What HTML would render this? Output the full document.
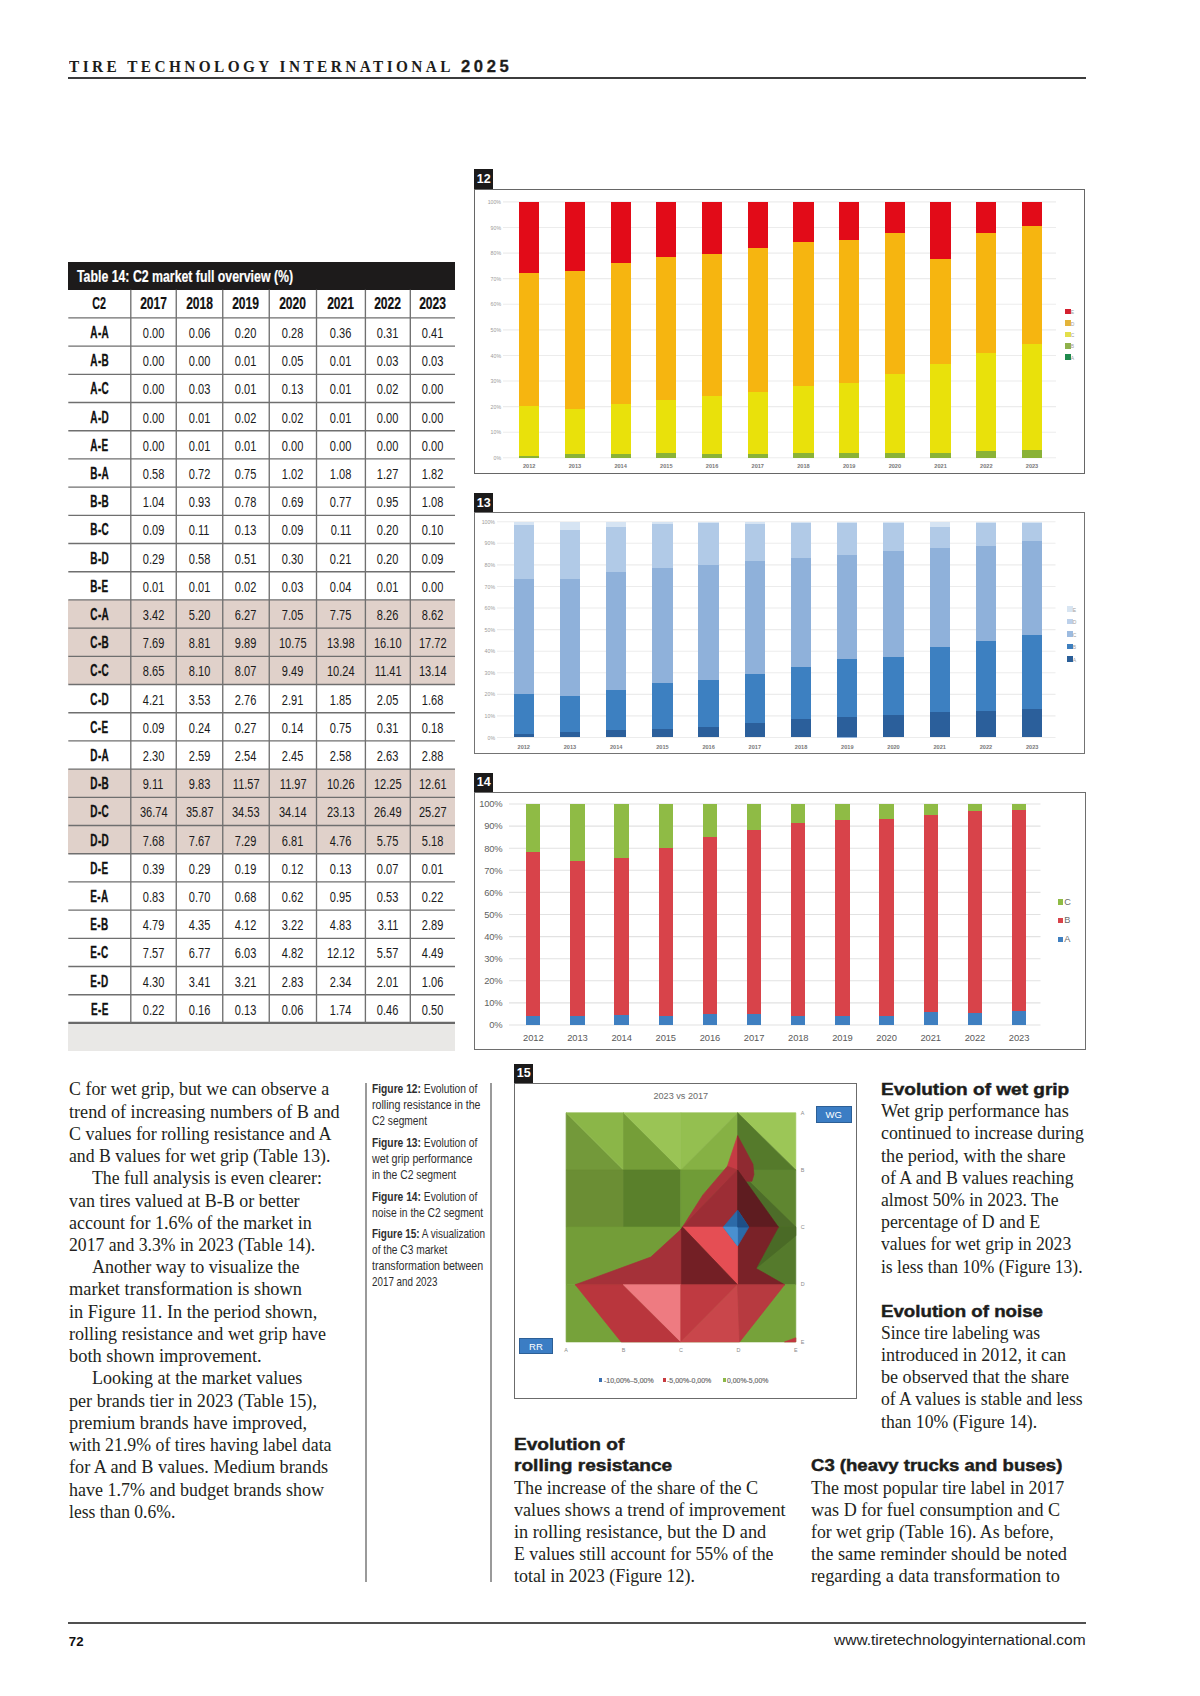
<!DOCTYPE html><html><head><meta charset="utf-8"><style>html,body{margin:0;padding:0;background:#fff;}body{width:1200px;height:1696px;position:relative;overflow:hidden;}</style></head><body>
<div style="position:absolute;left:68.80px;top:55.69px;line-height:20.88px;white-space:nowrap;font-family:'Liberation Serif', serif;font-size:17.4px;font-weight:bold;color:#1d1d1b;letter-spacing:3.9px;"><span style="display:inline-block;transform:scaleX(0.88);transform-origin:left 0;">TIRE TECHNOLOGY INTERNATIONAL</span></div>
<div style="position:absolute;left:461.00px;top:57.09px;line-height:19.92px;white-space:nowrap;font-family:'Liberation Sans', sans-serif;font-size:16.6px;font-weight:bold;color:#1d1d1b;letter-spacing:3.6px;-webkit-text-stroke:0.3px #1d1d1b;"><span style="display:inline-block;">2025</span></div>
<div style="position:absolute;left:68.00px;top:77.40px;width:1017.80px;height:1.80px;background:#3c3c3c;"></div>
<div style="position:absolute;left:68.30px;top:261.70px;width:386.70px;height:28.10px;background:#1d1b1b;"></div>
<div style="position:absolute;left:77.00px;top:267.05px;line-height:19.08px;white-space:nowrap;font-family:'Liberation Sans', sans-serif;font-size:15.9px;font-weight:bold;color:#ffffff;-webkit-text-stroke:0.2px #fff;"><span style="display:inline-block;transform:scaleX(0.775);transform-origin:left 0;">Table 14: C2 market full overview (%)</span></div>
<div style="position:absolute;left:68.30px;top:599.90px;width:386.70px;height:28.20px;background:#e0d1ca;"></div>
<div style="position:absolute;left:68.30px;top:628.10px;width:386.70px;height:28.20px;background:#e0d1ca;"></div>
<div style="position:absolute;left:68.30px;top:656.30px;width:386.70px;height:28.20px;background:#e0d1ca;"></div>
<div style="position:absolute;left:68.30px;top:769.10px;width:386.70px;height:28.20px;background:#e0d1ca;"></div>
<div style="position:absolute;left:68.30px;top:797.30px;width:386.70px;height:28.20px;background:#e0d1ca;"></div>
<div style="position:absolute;left:68.30px;top:825.50px;width:386.70px;height:28.20px;background:#e0d1ca;"></div>
<div style="position:absolute;left:68.30px;top:1024.30px;width:386.70px;height:26.50px;background:#e9e8e6;"></div>
<svg width="1200" height="1100" style="position:absolute;left:0;top:0"><line x1="68.3" y1="317.90" x2="455.0" y2="317.90" stroke="#6f6f6f" stroke-width="1.35"/><line x1="68.3" y1="346.10" x2="455.0" y2="346.10" stroke="#6f6f6f" stroke-width="1.35"/><line x1="68.3" y1="374.30" x2="455.0" y2="374.30" stroke="#6f6f6f" stroke-width="1.35"/><line x1="68.3" y1="402.50" x2="455.0" y2="402.50" stroke="#6f6f6f" stroke-width="1.35"/><line x1="68.3" y1="430.70" x2="455.0" y2="430.70" stroke="#6f6f6f" stroke-width="1.35"/><line x1="68.3" y1="458.90" x2="455.0" y2="458.90" stroke="#6f6f6f" stroke-width="1.35"/><line x1="68.3" y1="487.10" x2="455.0" y2="487.10" stroke="#6f6f6f" stroke-width="1.35"/><line x1="68.3" y1="515.30" x2="455.0" y2="515.30" stroke="#6f6f6f" stroke-width="1.35"/><line x1="68.3" y1="543.50" x2="455.0" y2="543.50" stroke="#6f6f6f" stroke-width="1.35"/><line x1="68.3" y1="571.70" x2="455.0" y2="571.70" stroke="#6f6f6f" stroke-width="1.35"/><line x1="68.3" y1="599.90" x2="455.0" y2="599.90" stroke="#6f6f6f" stroke-width="1.35"/><line x1="68.3" y1="628.10" x2="455.0" y2="628.10" stroke="#6f6f6f" stroke-width="1.35"/><line x1="68.3" y1="656.30" x2="455.0" y2="656.30" stroke="#6f6f6f" stroke-width="1.35"/><line x1="68.3" y1="684.50" x2="455.0" y2="684.50" stroke="#6f6f6f" stroke-width="1.35"/><line x1="68.3" y1="712.70" x2="455.0" y2="712.70" stroke="#6f6f6f" stroke-width="1.35"/><line x1="68.3" y1="740.90" x2="455.0" y2="740.90" stroke="#6f6f6f" stroke-width="1.35"/><line x1="68.3" y1="769.10" x2="455.0" y2="769.10" stroke="#6f6f6f" stroke-width="1.35"/><line x1="68.3" y1="797.30" x2="455.0" y2="797.30" stroke="#6f6f6f" stroke-width="1.35"/><line x1="68.3" y1="825.50" x2="455.0" y2="825.50" stroke="#6f6f6f" stroke-width="1.35"/><line x1="68.3" y1="853.70" x2="455.0" y2="853.70" stroke="#6f6f6f" stroke-width="1.35"/><line x1="68.3" y1="881.90" x2="455.0" y2="881.90" stroke="#6f6f6f" stroke-width="1.35"/><line x1="68.3" y1="910.10" x2="455.0" y2="910.10" stroke="#6f6f6f" stroke-width="1.35"/><line x1="68.3" y1="938.30" x2="455.0" y2="938.30" stroke="#6f6f6f" stroke-width="1.35"/><line x1="68.3" y1="966.50" x2="455.0" y2="966.50" stroke="#6f6f6f" stroke-width="1.35"/><line x1="68.3" y1="994.70" x2="455.0" y2="994.70" stroke="#6f6f6f" stroke-width="1.35"/><line x1="68.3" y1="1022.90" x2="455.0" y2="1022.90" stroke="#6a6a6a" stroke-width="2.2"/><line x1="130.80" y1="289.8" x2="130.80" y2="1022.90" stroke="#707070" stroke-width="1.35"/><line x1="176.25" y1="289.8" x2="176.25" y2="1022.90" stroke="#707070" stroke-width="1.35"/><line x1="222.75" y1="289.8" x2="222.75" y2="1022.90" stroke="#707070" stroke-width="1.35"/><line x1="269.25" y1="289.8" x2="269.25" y2="1022.90" stroke="#707070" stroke-width="1.35"/><line x1="316.50" y1="289.8" x2="316.50" y2="1022.90" stroke="#707070" stroke-width="1.35"/><line x1="365.40" y1="289.8" x2="365.40" y2="1022.90" stroke="#707070" stroke-width="1.35"/><line x1="410.30" y1="289.8" x2="410.30" y2="1022.90" stroke="#707070" stroke-width="1.35"/></svg>
<div style="position:absolute;left:69.55px;width:60px;text-align:center;top:295.35px;line-height:18.96px;white-space:nowrap;font-family:'Liberation Sans', sans-serif;font-size:15.8px;font-weight:bold;color:#111;-webkit-text-stroke:0.2px #111;"><span style="display:inline-block;transform:scaleX(0.68);transform-origin:center 0;">C2</span></div>
<div style="position:absolute;left:123.53px;width:60px;text-align:center;top:295.35px;line-height:18.96px;white-space:nowrap;font-family:'Liberation Sans', sans-serif;font-size:15.8px;font-weight:bold;color:#111;-webkit-text-stroke:0.2px #111;"><span style="display:inline-block;transform:scaleX(0.765);transform-origin:center 0;">2017</span></div>
<div style="position:absolute;left:169.50px;width:60px;text-align:center;top:295.35px;line-height:18.96px;white-space:nowrap;font-family:'Liberation Sans', sans-serif;font-size:15.8px;font-weight:bold;color:#111;-webkit-text-stroke:0.2px #111;"><span style="display:inline-block;transform:scaleX(0.765);transform-origin:center 0;">2018</span></div>
<div style="position:absolute;left:216.00px;width:60px;text-align:center;top:295.35px;line-height:18.96px;white-space:nowrap;font-family:'Liberation Sans', sans-serif;font-size:15.8px;font-weight:bold;color:#111;-webkit-text-stroke:0.2px #111;"><span style="display:inline-block;transform:scaleX(0.765);transform-origin:center 0;">2019</span></div>
<div style="position:absolute;left:262.88px;width:60px;text-align:center;top:295.35px;line-height:18.96px;white-space:nowrap;font-family:'Liberation Sans', sans-serif;font-size:15.8px;font-weight:bold;color:#111;-webkit-text-stroke:0.2px #111;"><span style="display:inline-block;transform:scaleX(0.765);transform-origin:center 0;">2020</span></div>
<div style="position:absolute;left:310.95px;width:60px;text-align:center;top:295.35px;line-height:18.96px;white-space:nowrap;font-family:'Liberation Sans', sans-serif;font-size:15.8px;font-weight:bold;color:#111;-webkit-text-stroke:0.2px #111;"><span style="display:inline-block;transform:scaleX(0.765);transform-origin:center 0;">2021</span></div>
<div style="position:absolute;left:357.85px;width:60px;text-align:center;top:295.35px;line-height:18.96px;white-space:nowrap;font-family:'Liberation Sans', sans-serif;font-size:15.8px;font-weight:bold;color:#111;-webkit-text-stroke:0.2px #111;"><span style="display:inline-block;transform:scaleX(0.765);transform-origin:center 0;">2022</span></div>
<div style="position:absolute;left:402.65px;width:60px;text-align:center;top:295.35px;line-height:18.96px;white-space:nowrap;font-family:'Liberation Sans', sans-serif;font-size:15.8px;font-weight:bold;color:#111;-webkit-text-stroke:0.2px #111;"><span style="display:inline-block;transform:scaleX(0.765);transform-origin:center 0;">2023</span></div>
<div style="position:absolute;left:69.55px;width:60px;text-align:center;top:324.03px;line-height:18.72px;white-space:nowrap;font-family:'Liberation Sans', sans-serif;font-size:15.6px;font-weight:bold;color:#111;letter-spacing:0.6px;-webkit-text-stroke:0.3px #111;"><span style="display:inline-block;transform:scaleX(0.64);transform-origin:center 0;">A-A</span></div>
<div style="position:absolute;left:123.53px;width:60px;text-align:center;top:324.00px;line-height:18.0px;white-space:nowrap;font-family:'Liberation Sans', sans-serif;font-size:15.0px;font-weight:normal;color:#1a1a1a;"><span style="display:inline-block;transform:scaleX(0.735);transform-origin:center 0;">0.00</span></div>
<div style="position:absolute;left:169.50px;width:60px;text-align:center;top:324.00px;line-height:18.0px;white-space:nowrap;font-family:'Liberation Sans', sans-serif;font-size:15.0px;font-weight:normal;color:#1a1a1a;"><span style="display:inline-block;transform:scaleX(0.735);transform-origin:center 0;">0.06</span></div>
<div style="position:absolute;left:216.00px;width:60px;text-align:center;top:324.00px;line-height:18.0px;white-space:nowrap;font-family:'Liberation Sans', sans-serif;font-size:15.0px;font-weight:normal;color:#1a1a1a;"><span style="display:inline-block;transform:scaleX(0.735);transform-origin:center 0;">0.20</span></div>
<div style="position:absolute;left:262.88px;width:60px;text-align:center;top:324.00px;line-height:18.0px;white-space:nowrap;font-family:'Liberation Sans', sans-serif;font-size:15.0px;font-weight:normal;color:#1a1a1a;"><span style="display:inline-block;transform:scaleX(0.735);transform-origin:center 0;">0.28</span></div>
<div style="position:absolute;left:310.95px;width:60px;text-align:center;top:324.00px;line-height:18.0px;white-space:nowrap;font-family:'Liberation Sans', sans-serif;font-size:15.0px;font-weight:normal;color:#1a1a1a;"><span style="display:inline-block;transform:scaleX(0.735);transform-origin:center 0;">0.36</span></div>
<div style="position:absolute;left:357.85px;width:60px;text-align:center;top:324.00px;line-height:18.0px;white-space:nowrap;font-family:'Liberation Sans', sans-serif;font-size:15.0px;font-weight:normal;color:#1a1a1a;"><span style="display:inline-block;transform:scaleX(0.735);transform-origin:center 0;">0.31</span></div>
<div style="position:absolute;left:402.65px;width:60px;text-align:center;top:324.00px;line-height:18.0px;white-space:nowrap;font-family:'Liberation Sans', sans-serif;font-size:15.0px;font-weight:normal;color:#1a1a1a;"><span style="display:inline-block;transform:scaleX(0.735);transform-origin:center 0;">0.41</span></div>
<div style="position:absolute;left:69.55px;width:60px;text-align:center;top:352.23px;line-height:18.72px;white-space:nowrap;font-family:'Liberation Sans', sans-serif;font-size:15.6px;font-weight:bold;color:#111;letter-spacing:0.6px;-webkit-text-stroke:0.3px #111;"><span style="display:inline-block;transform:scaleX(0.64);transform-origin:center 0;">A-B</span></div>
<div style="position:absolute;left:123.53px;width:60px;text-align:center;top:352.20px;line-height:18.0px;white-space:nowrap;font-family:'Liberation Sans', sans-serif;font-size:15.0px;font-weight:normal;color:#1a1a1a;"><span style="display:inline-block;transform:scaleX(0.735);transform-origin:center 0;">0.00</span></div>
<div style="position:absolute;left:169.50px;width:60px;text-align:center;top:352.20px;line-height:18.0px;white-space:nowrap;font-family:'Liberation Sans', sans-serif;font-size:15.0px;font-weight:normal;color:#1a1a1a;"><span style="display:inline-block;transform:scaleX(0.735);transform-origin:center 0;">0.00</span></div>
<div style="position:absolute;left:216.00px;width:60px;text-align:center;top:352.20px;line-height:18.0px;white-space:nowrap;font-family:'Liberation Sans', sans-serif;font-size:15.0px;font-weight:normal;color:#1a1a1a;"><span style="display:inline-block;transform:scaleX(0.735);transform-origin:center 0;">0.01</span></div>
<div style="position:absolute;left:262.88px;width:60px;text-align:center;top:352.20px;line-height:18.0px;white-space:nowrap;font-family:'Liberation Sans', sans-serif;font-size:15.0px;font-weight:normal;color:#1a1a1a;"><span style="display:inline-block;transform:scaleX(0.735);transform-origin:center 0;">0.05</span></div>
<div style="position:absolute;left:310.95px;width:60px;text-align:center;top:352.20px;line-height:18.0px;white-space:nowrap;font-family:'Liberation Sans', sans-serif;font-size:15.0px;font-weight:normal;color:#1a1a1a;"><span style="display:inline-block;transform:scaleX(0.735);transform-origin:center 0;">0.01</span></div>
<div style="position:absolute;left:357.85px;width:60px;text-align:center;top:352.20px;line-height:18.0px;white-space:nowrap;font-family:'Liberation Sans', sans-serif;font-size:15.0px;font-weight:normal;color:#1a1a1a;"><span style="display:inline-block;transform:scaleX(0.735);transform-origin:center 0;">0.03</span></div>
<div style="position:absolute;left:402.65px;width:60px;text-align:center;top:352.20px;line-height:18.0px;white-space:nowrap;font-family:'Liberation Sans', sans-serif;font-size:15.0px;font-weight:normal;color:#1a1a1a;"><span style="display:inline-block;transform:scaleX(0.735);transform-origin:center 0;">0.03</span></div>
<div style="position:absolute;left:69.55px;width:60px;text-align:center;top:380.43px;line-height:18.72px;white-space:nowrap;font-family:'Liberation Sans', sans-serif;font-size:15.6px;font-weight:bold;color:#111;letter-spacing:0.6px;-webkit-text-stroke:0.3px #111;"><span style="display:inline-block;transform:scaleX(0.64);transform-origin:center 0;">A-C</span></div>
<div style="position:absolute;left:123.53px;width:60px;text-align:center;top:380.40px;line-height:18.0px;white-space:nowrap;font-family:'Liberation Sans', sans-serif;font-size:15.0px;font-weight:normal;color:#1a1a1a;"><span style="display:inline-block;transform:scaleX(0.735);transform-origin:center 0;">0.00</span></div>
<div style="position:absolute;left:169.50px;width:60px;text-align:center;top:380.40px;line-height:18.0px;white-space:nowrap;font-family:'Liberation Sans', sans-serif;font-size:15.0px;font-weight:normal;color:#1a1a1a;"><span style="display:inline-block;transform:scaleX(0.735);transform-origin:center 0;">0.03</span></div>
<div style="position:absolute;left:216.00px;width:60px;text-align:center;top:380.40px;line-height:18.0px;white-space:nowrap;font-family:'Liberation Sans', sans-serif;font-size:15.0px;font-weight:normal;color:#1a1a1a;"><span style="display:inline-block;transform:scaleX(0.735);transform-origin:center 0;">0.01</span></div>
<div style="position:absolute;left:262.88px;width:60px;text-align:center;top:380.40px;line-height:18.0px;white-space:nowrap;font-family:'Liberation Sans', sans-serif;font-size:15.0px;font-weight:normal;color:#1a1a1a;"><span style="display:inline-block;transform:scaleX(0.735);transform-origin:center 0;">0.13</span></div>
<div style="position:absolute;left:310.95px;width:60px;text-align:center;top:380.40px;line-height:18.0px;white-space:nowrap;font-family:'Liberation Sans', sans-serif;font-size:15.0px;font-weight:normal;color:#1a1a1a;"><span style="display:inline-block;transform:scaleX(0.735);transform-origin:center 0;">0.01</span></div>
<div style="position:absolute;left:357.85px;width:60px;text-align:center;top:380.40px;line-height:18.0px;white-space:nowrap;font-family:'Liberation Sans', sans-serif;font-size:15.0px;font-weight:normal;color:#1a1a1a;"><span style="display:inline-block;transform:scaleX(0.735);transform-origin:center 0;">0.02</span></div>
<div style="position:absolute;left:402.65px;width:60px;text-align:center;top:380.40px;line-height:18.0px;white-space:nowrap;font-family:'Liberation Sans', sans-serif;font-size:15.0px;font-weight:normal;color:#1a1a1a;"><span style="display:inline-block;transform:scaleX(0.735);transform-origin:center 0;">0.00</span></div>
<div style="position:absolute;left:69.55px;width:60px;text-align:center;top:408.63px;line-height:18.72px;white-space:nowrap;font-family:'Liberation Sans', sans-serif;font-size:15.6px;font-weight:bold;color:#111;letter-spacing:0.6px;-webkit-text-stroke:0.3px #111;"><span style="display:inline-block;transform:scaleX(0.64);transform-origin:center 0;">A-D</span></div>
<div style="position:absolute;left:123.53px;width:60px;text-align:center;top:408.60px;line-height:18.0px;white-space:nowrap;font-family:'Liberation Sans', sans-serif;font-size:15.0px;font-weight:normal;color:#1a1a1a;"><span style="display:inline-block;transform:scaleX(0.735);transform-origin:center 0;">0.00</span></div>
<div style="position:absolute;left:169.50px;width:60px;text-align:center;top:408.60px;line-height:18.0px;white-space:nowrap;font-family:'Liberation Sans', sans-serif;font-size:15.0px;font-weight:normal;color:#1a1a1a;"><span style="display:inline-block;transform:scaleX(0.735);transform-origin:center 0;">0.01</span></div>
<div style="position:absolute;left:216.00px;width:60px;text-align:center;top:408.60px;line-height:18.0px;white-space:nowrap;font-family:'Liberation Sans', sans-serif;font-size:15.0px;font-weight:normal;color:#1a1a1a;"><span style="display:inline-block;transform:scaleX(0.735);transform-origin:center 0;">0.02</span></div>
<div style="position:absolute;left:262.88px;width:60px;text-align:center;top:408.60px;line-height:18.0px;white-space:nowrap;font-family:'Liberation Sans', sans-serif;font-size:15.0px;font-weight:normal;color:#1a1a1a;"><span style="display:inline-block;transform:scaleX(0.735);transform-origin:center 0;">0.02</span></div>
<div style="position:absolute;left:310.95px;width:60px;text-align:center;top:408.60px;line-height:18.0px;white-space:nowrap;font-family:'Liberation Sans', sans-serif;font-size:15.0px;font-weight:normal;color:#1a1a1a;"><span style="display:inline-block;transform:scaleX(0.735);transform-origin:center 0;">0.01</span></div>
<div style="position:absolute;left:357.85px;width:60px;text-align:center;top:408.60px;line-height:18.0px;white-space:nowrap;font-family:'Liberation Sans', sans-serif;font-size:15.0px;font-weight:normal;color:#1a1a1a;"><span style="display:inline-block;transform:scaleX(0.735);transform-origin:center 0;">0.00</span></div>
<div style="position:absolute;left:402.65px;width:60px;text-align:center;top:408.60px;line-height:18.0px;white-space:nowrap;font-family:'Liberation Sans', sans-serif;font-size:15.0px;font-weight:normal;color:#1a1a1a;"><span style="display:inline-block;transform:scaleX(0.735);transform-origin:center 0;">0.00</span></div>
<div style="position:absolute;left:69.55px;width:60px;text-align:center;top:436.83px;line-height:18.72px;white-space:nowrap;font-family:'Liberation Sans', sans-serif;font-size:15.6px;font-weight:bold;color:#111;letter-spacing:0.6px;-webkit-text-stroke:0.3px #111;"><span style="display:inline-block;transform:scaleX(0.64);transform-origin:center 0;">A-E</span></div>
<div style="position:absolute;left:123.53px;width:60px;text-align:center;top:436.80px;line-height:18.0px;white-space:nowrap;font-family:'Liberation Sans', sans-serif;font-size:15.0px;font-weight:normal;color:#1a1a1a;"><span style="display:inline-block;transform:scaleX(0.735);transform-origin:center 0;">0.00</span></div>
<div style="position:absolute;left:169.50px;width:60px;text-align:center;top:436.80px;line-height:18.0px;white-space:nowrap;font-family:'Liberation Sans', sans-serif;font-size:15.0px;font-weight:normal;color:#1a1a1a;"><span style="display:inline-block;transform:scaleX(0.735);transform-origin:center 0;">0.01</span></div>
<div style="position:absolute;left:216.00px;width:60px;text-align:center;top:436.80px;line-height:18.0px;white-space:nowrap;font-family:'Liberation Sans', sans-serif;font-size:15.0px;font-weight:normal;color:#1a1a1a;"><span style="display:inline-block;transform:scaleX(0.735);transform-origin:center 0;">0.01</span></div>
<div style="position:absolute;left:262.88px;width:60px;text-align:center;top:436.80px;line-height:18.0px;white-space:nowrap;font-family:'Liberation Sans', sans-serif;font-size:15.0px;font-weight:normal;color:#1a1a1a;"><span style="display:inline-block;transform:scaleX(0.735);transform-origin:center 0;">0.00</span></div>
<div style="position:absolute;left:310.95px;width:60px;text-align:center;top:436.80px;line-height:18.0px;white-space:nowrap;font-family:'Liberation Sans', sans-serif;font-size:15.0px;font-weight:normal;color:#1a1a1a;"><span style="display:inline-block;transform:scaleX(0.735);transform-origin:center 0;">0.00</span></div>
<div style="position:absolute;left:357.85px;width:60px;text-align:center;top:436.80px;line-height:18.0px;white-space:nowrap;font-family:'Liberation Sans', sans-serif;font-size:15.0px;font-weight:normal;color:#1a1a1a;"><span style="display:inline-block;transform:scaleX(0.735);transform-origin:center 0;">0.00</span></div>
<div style="position:absolute;left:402.65px;width:60px;text-align:center;top:436.80px;line-height:18.0px;white-space:nowrap;font-family:'Liberation Sans', sans-serif;font-size:15.0px;font-weight:normal;color:#1a1a1a;"><span style="display:inline-block;transform:scaleX(0.735);transform-origin:center 0;">0.00</span></div>
<div style="position:absolute;left:69.55px;width:60px;text-align:center;top:465.03px;line-height:18.72px;white-space:nowrap;font-family:'Liberation Sans', sans-serif;font-size:15.6px;font-weight:bold;color:#111;letter-spacing:0.6px;-webkit-text-stroke:0.3px #111;"><span style="display:inline-block;transform:scaleX(0.64);transform-origin:center 0;">B-A</span></div>
<div style="position:absolute;left:123.53px;width:60px;text-align:center;top:465.00px;line-height:18.0px;white-space:nowrap;font-family:'Liberation Sans', sans-serif;font-size:15.0px;font-weight:normal;color:#1a1a1a;"><span style="display:inline-block;transform:scaleX(0.735);transform-origin:center 0;">0.58</span></div>
<div style="position:absolute;left:169.50px;width:60px;text-align:center;top:465.00px;line-height:18.0px;white-space:nowrap;font-family:'Liberation Sans', sans-serif;font-size:15.0px;font-weight:normal;color:#1a1a1a;"><span style="display:inline-block;transform:scaleX(0.735);transform-origin:center 0;">0.72</span></div>
<div style="position:absolute;left:216.00px;width:60px;text-align:center;top:465.00px;line-height:18.0px;white-space:nowrap;font-family:'Liberation Sans', sans-serif;font-size:15.0px;font-weight:normal;color:#1a1a1a;"><span style="display:inline-block;transform:scaleX(0.735);transform-origin:center 0;">0.75</span></div>
<div style="position:absolute;left:262.88px;width:60px;text-align:center;top:465.00px;line-height:18.0px;white-space:nowrap;font-family:'Liberation Sans', sans-serif;font-size:15.0px;font-weight:normal;color:#1a1a1a;"><span style="display:inline-block;transform:scaleX(0.735);transform-origin:center 0;">1.02</span></div>
<div style="position:absolute;left:310.95px;width:60px;text-align:center;top:465.00px;line-height:18.0px;white-space:nowrap;font-family:'Liberation Sans', sans-serif;font-size:15.0px;font-weight:normal;color:#1a1a1a;"><span style="display:inline-block;transform:scaleX(0.735);transform-origin:center 0;">1.08</span></div>
<div style="position:absolute;left:357.85px;width:60px;text-align:center;top:465.00px;line-height:18.0px;white-space:nowrap;font-family:'Liberation Sans', sans-serif;font-size:15.0px;font-weight:normal;color:#1a1a1a;"><span style="display:inline-block;transform:scaleX(0.735);transform-origin:center 0;">1.27</span></div>
<div style="position:absolute;left:402.65px;width:60px;text-align:center;top:465.00px;line-height:18.0px;white-space:nowrap;font-family:'Liberation Sans', sans-serif;font-size:15.0px;font-weight:normal;color:#1a1a1a;"><span style="display:inline-block;transform:scaleX(0.735);transform-origin:center 0;">1.82</span></div>
<div style="position:absolute;left:69.55px;width:60px;text-align:center;top:493.23px;line-height:18.72px;white-space:nowrap;font-family:'Liberation Sans', sans-serif;font-size:15.6px;font-weight:bold;color:#111;letter-spacing:0.6px;-webkit-text-stroke:0.3px #111;"><span style="display:inline-block;transform:scaleX(0.64);transform-origin:center 0;">B-B</span></div>
<div style="position:absolute;left:123.53px;width:60px;text-align:center;top:493.20px;line-height:18.0px;white-space:nowrap;font-family:'Liberation Sans', sans-serif;font-size:15.0px;font-weight:normal;color:#1a1a1a;"><span style="display:inline-block;transform:scaleX(0.735);transform-origin:center 0;">1.04</span></div>
<div style="position:absolute;left:169.50px;width:60px;text-align:center;top:493.20px;line-height:18.0px;white-space:nowrap;font-family:'Liberation Sans', sans-serif;font-size:15.0px;font-weight:normal;color:#1a1a1a;"><span style="display:inline-block;transform:scaleX(0.735);transform-origin:center 0;">0.93</span></div>
<div style="position:absolute;left:216.00px;width:60px;text-align:center;top:493.20px;line-height:18.0px;white-space:nowrap;font-family:'Liberation Sans', sans-serif;font-size:15.0px;font-weight:normal;color:#1a1a1a;"><span style="display:inline-block;transform:scaleX(0.735);transform-origin:center 0;">0.78</span></div>
<div style="position:absolute;left:262.88px;width:60px;text-align:center;top:493.20px;line-height:18.0px;white-space:nowrap;font-family:'Liberation Sans', sans-serif;font-size:15.0px;font-weight:normal;color:#1a1a1a;"><span style="display:inline-block;transform:scaleX(0.735);transform-origin:center 0;">0.69</span></div>
<div style="position:absolute;left:310.95px;width:60px;text-align:center;top:493.20px;line-height:18.0px;white-space:nowrap;font-family:'Liberation Sans', sans-serif;font-size:15.0px;font-weight:normal;color:#1a1a1a;"><span style="display:inline-block;transform:scaleX(0.735);transform-origin:center 0;">0.77</span></div>
<div style="position:absolute;left:357.85px;width:60px;text-align:center;top:493.20px;line-height:18.0px;white-space:nowrap;font-family:'Liberation Sans', sans-serif;font-size:15.0px;font-weight:normal;color:#1a1a1a;"><span style="display:inline-block;transform:scaleX(0.735);transform-origin:center 0;">0.95</span></div>
<div style="position:absolute;left:402.65px;width:60px;text-align:center;top:493.20px;line-height:18.0px;white-space:nowrap;font-family:'Liberation Sans', sans-serif;font-size:15.0px;font-weight:normal;color:#1a1a1a;"><span style="display:inline-block;transform:scaleX(0.735);transform-origin:center 0;">1.08</span></div>
<div style="position:absolute;left:69.55px;width:60px;text-align:center;top:521.43px;line-height:18.72px;white-space:nowrap;font-family:'Liberation Sans', sans-serif;font-size:15.6px;font-weight:bold;color:#111;letter-spacing:0.6px;-webkit-text-stroke:0.3px #111;"><span style="display:inline-block;transform:scaleX(0.64);transform-origin:center 0;">B-C</span></div>
<div style="position:absolute;left:123.53px;width:60px;text-align:center;top:521.40px;line-height:18.0px;white-space:nowrap;font-family:'Liberation Sans', sans-serif;font-size:15.0px;font-weight:normal;color:#1a1a1a;"><span style="display:inline-block;transform:scaleX(0.735);transform-origin:center 0;">0.09</span></div>
<div style="position:absolute;left:169.50px;width:60px;text-align:center;top:521.40px;line-height:18.0px;white-space:nowrap;font-family:'Liberation Sans', sans-serif;font-size:15.0px;font-weight:normal;color:#1a1a1a;"><span style="display:inline-block;transform:scaleX(0.735);transform-origin:center 0;">0.11</span></div>
<div style="position:absolute;left:216.00px;width:60px;text-align:center;top:521.40px;line-height:18.0px;white-space:nowrap;font-family:'Liberation Sans', sans-serif;font-size:15.0px;font-weight:normal;color:#1a1a1a;"><span style="display:inline-block;transform:scaleX(0.735);transform-origin:center 0;">0.13</span></div>
<div style="position:absolute;left:262.88px;width:60px;text-align:center;top:521.40px;line-height:18.0px;white-space:nowrap;font-family:'Liberation Sans', sans-serif;font-size:15.0px;font-weight:normal;color:#1a1a1a;"><span style="display:inline-block;transform:scaleX(0.735);transform-origin:center 0;">0.09</span></div>
<div style="position:absolute;left:310.95px;width:60px;text-align:center;top:521.40px;line-height:18.0px;white-space:nowrap;font-family:'Liberation Sans', sans-serif;font-size:15.0px;font-weight:normal;color:#1a1a1a;"><span style="display:inline-block;transform:scaleX(0.735);transform-origin:center 0;">0.11</span></div>
<div style="position:absolute;left:357.85px;width:60px;text-align:center;top:521.40px;line-height:18.0px;white-space:nowrap;font-family:'Liberation Sans', sans-serif;font-size:15.0px;font-weight:normal;color:#1a1a1a;"><span style="display:inline-block;transform:scaleX(0.735);transform-origin:center 0;">0.20</span></div>
<div style="position:absolute;left:402.65px;width:60px;text-align:center;top:521.40px;line-height:18.0px;white-space:nowrap;font-family:'Liberation Sans', sans-serif;font-size:15.0px;font-weight:normal;color:#1a1a1a;"><span style="display:inline-block;transform:scaleX(0.735);transform-origin:center 0;">0.10</span></div>
<div style="position:absolute;left:69.55px;width:60px;text-align:center;top:549.63px;line-height:18.72px;white-space:nowrap;font-family:'Liberation Sans', sans-serif;font-size:15.6px;font-weight:bold;color:#111;letter-spacing:0.6px;-webkit-text-stroke:0.3px #111;"><span style="display:inline-block;transform:scaleX(0.64);transform-origin:center 0;">B-D</span></div>
<div style="position:absolute;left:123.53px;width:60px;text-align:center;top:549.60px;line-height:18.0px;white-space:nowrap;font-family:'Liberation Sans', sans-serif;font-size:15.0px;font-weight:normal;color:#1a1a1a;"><span style="display:inline-block;transform:scaleX(0.735);transform-origin:center 0;">0.29</span></div>
<div style="position:absolute;left:169.50px;width:60px;text-align:center;top:549.60px;line-height:18.0px;white-space:nowrap;font-family:'Liberation Sans', sans-serif;font-size:15.0px;font-weight:normal;color:#1a1a1a;"><span style="display:inline-block;transform:scaleX(0.735);transform-origin:center 0;">0.58</span></div>
<div style="position:absolute;left:216.00px;width:60px;text-align:center;top:549.60px;line-height:18.0px;white-space:nowrap;font-family:'Liberation Sans', sans-serif;font-size:15.0px;font-weight:normal;color:#1a1a1a;"><span style="display:inline-block;transform:scaleX(0.735);transform-origin:center 0;">0.51</span></div>
<div style="position:absolute;left:262.88px;width:60px;text-align:center;top:549.60px;line-height:18.0px;white-space:nowrap;font-family:'Liberation Sans', sans-serif;font-size:15.0px;font-weight:normal;color:#1a1a1a;"><span style="display:inline-block;transform:scaleX(0.735);transform-origin:center 0;">0.30</span></div>
<div style="position:absolute;left:310.95px;width:60px;text-align:center;top:549.60px;line-height:18.0px;white-space:nowrap;font-family:'Liberation Sans', sans-serif;font-size:15.0px;font-weight:normal;color:#1a1a1a;"><span style="display:inline-block;transform:scaleX(0.735);transform-origin:center 0;">0.21</span></div>
<div style="position:absolute;left:357.85px;width:60px;text-align:center;top:549.60px;line-height:18.0px;white-space:nowrap;font-family:'Liberation Sans', sans-serif;font-size:15.0px;font-weight:normal;color:#1a1a1a;"><span style="display:inline-block;transform:scaleX(0.735);transform-origin:center 0;">0.20</span></div>
<div style="position:absolute;left:402.65px;width:60px;text-align:center;top:549.60px;line-height:18.0px;white-space:nowrap;font-family:'Liberation Sans', sans-serif;font-size:15.0px;font-weight:normal;color:#1a1a1a;"><span style="display:inline-block;transform:scaleX(0.735);transform-origin:center 0;">0.09</span></div>
<div style="position:absolute;left:69.55px;width:60px;text-align:center;top:577.83px;line-height:18.72px;white-space:nowrap;font-family:'Liberation Sans', sans-serif;font-size:15.6px;font-weight:bold;color:#111;letter-spacing:0.6px;-webkit-text-stroke:0.3px #111;"><span style="display:inline-block;transform:scaleX(0.64);transform-origin:center 0;">B-E</span></div>
<div style="position:absolute;left:123.53px;width:60px;text-align:center;top:577.80px;line-height:18.0px;white-space:nowrap;font-family:'Liberation Sans', sans-serif;font-size:15.0px;font-weight:normal;color:#1a1a1a;"><span style="display:inline-block;transform:scaleX(0.735);transform-origin:center 0;">0.01</span></div>
<div style="position:absolute;left:169.50px;width:60px;text-align:center;top:577.80px;line-height:18.0px;white-space:nowrap;font-family:'Liberation Sans', sans-serif;font-size:15.0px;font-weight:normal;color:#1a1a1a;"><span style="display:inline-block;transform:scaleX(0.735);transform-origin:center 0;">0.01</span></div>
<div style="position:absolute;left:216.00px;width:60px;text-align:center;top:577.80px;line-height:18.0px;white-space:nowrap;font-family:'Liberation Sans', sans-serif;font-size:15.0px;font-weight:normal;color:#1a1a1a;"><span style="display:inline-block;transform:scaleX(0.735);transform-origin:center 0;">0.02</span></div>
<div style="position:absolute;left:262.88px;width:60px;text-align:center;top:577.80px;line-height:18.0px;white-space:nowrap;font-family:'Liberation Sans', sans-serif;font-size:15.0px;font-weight:normal;color:#1a1a1a;"><span style="display:inline-block;transform:scaleX(0.735);transform-origin:center 0;">0.03</span></div>
<div style="position:absolute;left:310.95px;width:60px;text-align:center;top:577.80px;line-height:18.0px;white-space:nowrap;font-family:'Liberation Sans', sans-serif;font-size:15.0px;font-weight:normal;color:#1a1a1a;"><span style="display:inline-block;transform:scaleX(0.735);transform-origin:center 0;">0.04</span></div>
<div style="position:absolute;left:357.85px;width:60px;text-align:center;top:577.80px;line-height:18.0px;white-space:nowrap;font-family:'Liberation Sans', sans-serif;font-size:15.0px;font-weight:normal;color:#1a1a1a;"><span style="display:inline-block;transform:scaleX(0.735);transform-origin:center 0;">0.01</span></div>
<div style="position:absolute;left:402.65px;width:60px;text-align:center;top:577.80px;line-height:18.0px;white-space:nowrap;font-family:'Liberation Sans', sans-serif;font-size:15.0px;font-weight:normal;color:#1a1a1a;"><span style="display:inline-block;transform:scaleX(0.735);transform-origin:center 0;">0.00</span></div>
<div style="position:absolute;left:69.55px;width:60px;text-align:center;top:606.03px;line-height:18.72px;white-space:nowrap;font-family:'Liberation Sans', sans-serif;font-size:15.6px;font-weight:bold;color:#111;letter-spacing:0.6px;-webkit-text-stroke:0.3px #111;"><span style="display:inline-block;transform:scaleX(0.64);transform-origin:center 0;">C-A</span></div>
<div style="position:absolute;left:123.53px;width:60px;text-align:center;top:606.00px;line-height:18.0px;white-space:nowrap;font-family:'Liberation Sans', sans-serif;font-size:15.0px;font-weight:normal;color:#1a1a1a;"><span style="display:inline-block;transform:scaleX(0.735);transform-origin:center 0;">3.42</span></div>
<div style="position:absolute;left:169.50px;width:60px;text-align:center;top:606.00px;line-height:18.0px;white-space:nowrap;font-family:'Liberation Sans', sans-serif;font-size:15.0px;font-weight:normal;color:#1a1a1a;"><span style="display:inline-block;transform:scaleX(0.735);transform-origin:center 0;">5.20</span></div>
<div style="position:absolute;left:216.00px;width:60px;text-align:center;top:606.00px;line-height:18.0px;white-space:nowrap;font-family:'Liberation Sans', sans-serif;font-size:15.0px;font-weight:normal;color:#1a1a1a;"><span style="display:inline-block;transform:scaleX(0.735);transform-origin:center 0;">6.27</span></div>
<div style="position:absolute;left:262.88px;width:60px;text-align:center;top:606.00px;line-height:18.0px;white-space:nowrap;font-family:'Liberation Sans', sans-serif;font-size:15.0px;font-weight:normal;color:#1a1a1a;"><span style="display:inline-block;transform:scaleX(0.735);transform-origin:center 0;">7.05</span></div>
<div style="position:absolute;left:310.95px;width:60px;text-align:center;top:606.00px;line-height:18.0px;white-space:nowrap;font-family:'Liberation Sans', sans-serif;font-size:15.0px;font-weight:normal;color:#1a1a1a;"><span style="display:inline-block;transform:scaleX(0.735);transform-origin:center 0;">7.75</span></div>
<div style="position:absolute;left:357.85px;width:60px;text-align:center;top:606.00px;line-height:18.0px;white-space:nowrap;font-family:'Liberation Sans', sans-serif;font-size:15.0px;font-weight:normal;color:#1a1a1a;"><span style="display:inline-block;transform:scaleX(0.735);transform-origin:center 0;">8.26</span></div>
<div style="position:absolute;left:402.65px;width:60px;text-align:center;top:606.00px;line-height:18.0px;white-space:nowrap;font-family:'Liberation Sans', sans-serif;font-size:15.0px;font-weight:normal;color:#1a1a1a;"><span style="display:inline-block;transform:scaleX(0.735);transform-origin:center 0;">8.62</span></div>
<div style="position:absolute;left:69.55px;width:60px;text-align:center;top:634.23px;line-height:18.72px;white-space:nowrap;font-family:'Liberation Sans', sans-serif;font-size:15.6px;font-weight:bold;color:#111;letter-spacing:0.6px;-webkit-text-stroke:0.3px #111;"><span style="display:inline-block;transform:scaleX(0.64);transform-origin:center 0;">C-B</span></div>
<div style="position:absolute;left:123.53px;width:60px;text-align:center;top:634.20px;line-height:18.0px;white-space:nowrap;font-family:'Liberation Sans', sans-serif;font-size:15.0px;font-weight:normal;color:#1a1a1a;"><span style="display:inline-block;transform:scaleX(0.735);transform-origin:center 0;">7.69</span></div>
<div style="position:absolute;left:169.50px;width:60px;text-align:center;top:634.20px;line-height:18.0px;white-space:nowrap;font-family:'Liberation Sans', sans-serif;font-size:15.0px;font-weight:normal;color:#1a1a1a;"><span style="display:inline-block;transform:scaleX(0.735);transform-origin:center 0;">8.81</span></div>
<div style="position:absolute;left:216.00px;width:60px;text-align:center;top:634.20px;line-height:18.0px;white-space:nowrap;font-family:'Liberation Sans', sans-serif;font-size:15.0px;font-weight:normal;color:#1a1a1a;"><span style="display:inline-block;transform:scaleX(0.735);transform-origin:center 0;">9.89</span></div>
<div style="position:absolute;left:262.88px;width:60px;text-align:center;top:634.20px;line-height:18.0px;white-space:nowrap;font-family:'Liberation Sans', sans-serif;font-size:15.0px;font-weight:normal;color:#1a1a1a;"><span style="display:inline-block;transform:scaleX(0.735);transform-origin:center 0;">10.75</span></div>
<div style="position:absolute;left:310.95px;width:60px;text-align:center;top:634.20px;line-height:18.0px;white-space:nowrap;font-family:'Liberation Sans', sans-serif;font-size:15.0px;font-weight:normal;color:#1a1a1a;"><span style="display:inline-block;transform:scaleX(0.735);transform-origin:center 0;">13.98</span></div>
<div style="position:absolute;left:357.85px;width:60px;text-align:center;top:634.20px;line-height:18.0px;white-space:nowrap;font-family:'Liberation Sans', sans-serif;font-size:15.0px;font-weight:normal;color:#1a1a1a;"><span style="display:inline-block;transform:scaleX(0.735);transform-origin:center 0;">16.10</span></div>
<div style="position:absolute;left:402.65px;width:60px;text-align:center;top:634.20px;line-height:18.0px;white-space:nowrap;font-family:'Liberation Sans', sans-serif;font-size:15.0px;font-weight:normal;color:#1a1a1a;"><span style="display:inline-block;transform:scaleX(0.735);transform-origin:center 0;">17.72</span></div>
<div style="position:absolute;left:69.55px;width:60px;text-align:center;top:662.43px;line-height:18.72px;white-space:nowrap;font-family:'Liberation Sans', sans-serif;font-size:15.6px;font-weight:bold;color:#111;letter-spacing:0.6px;-webkit-text-stroke:0.3px #111;"><span style="display:inline-block;transform:scaleX(0.64);transform-origin:center 0;">C-C</span></div>
<div style="position:absolute;left:123.53px;width:60px;text-align:center;top:662.40px;line-height:18.0px;white-space:nowrap;font-family:'Liberation Sans', sans-serif;font-size:15.0px;font-weight:normal;color:#1a1a1a;"><span style="display:inline-block;transform:scaleX(0.735);transform-origin:center 0;">8.65</span></div>
<div style="position:absolute;left:169.50px;width:60px;text-align:center;top:662.40px;line-height:18.0px;white-space:nowrap;font-family:'Liberation Sans', sans-serif;font-size:15.0px;font-weight:normal;color:#1a1a1a;"><span style="display:inline-block;transform:scaleX(0.735);transform-origin:center 0;">8.10</span></div>
<div style="position:absolute;left:216.00px;width:60px;text-align:center;top:662.40px;line-height:18.0px;white-space:nowrap;font-family:'Liberation Sans', sans-serif;font-size:15.0px;font-weight:normal;color:#1a1a1a;"><span style="display:inline-block;transform:scaleX(0.735);transform-origin:center 0;">8.07</span></div>
<div style="position:absolute;left:262.88px;width:60px;text-align:center;top:662.40px;line-height:18.0px;white-space:nowrap;font-family:'Liberation Sans', sans-serif;font-size:15.0px;font-weight:normal;color:#1a1a1a;"><span style="display:inline-block;transform:scaleX(0.735);transform-origin:center 0;">9.49</span></div>
<div style="position:absolute;left:310.95px;width:60px;text-align:center;top:662.40px;line-height:18.0px;white-space:nowrap;font-family:'Liberation Sans', sans-serif;font-size:15.0px;font-weight:normal;color:#1a1a1a;"><span style="display:inline-block;transform:scaleX(0.735);transform-origin:center 0;">10.24</span></div>
<div style="position:absolute;left:357.85px;width:60px;text-align:center;top:662.40px;line-height:18.0px;white-space:nowrap;font-family:'Liberation Sans', sans-serif;font-size:15.0px;font-weight:normal;color:#1a1a1a;"><span style="display:inline-block;transform:scaleX(0.735);transform-origin:center 0;">11.41</span></div>
<div style="position:absolute;left:402.65px;width:60px;text-align:center;top:662.40px;line-height:18.0px;white-space:nowrap;font-family:'Liberation Sans', sans-serif;font-size:15.0px;font-weight:normal;color:#1a1a1a;"><span style="display:inline-block;transform:scaleX(0.735);transform-origin:center 0;">13.14</span></div>
<div style="position:absolute;left:69.55px;width:60px;text-align:center;top:690.63px;line-height:18.72px;white-space:nowrap;font-family:'Liberation Sans', sans-serif;font-size:15.6px;font-weight:bold;color:#111;letter-spacing:0.6px;-webkit-text-stroke:0.3px #111;"><span style="display:inline-block;transform:scaleX(0.64);transform-origin:center 0;">C-D</span></div>
<div style="position:absolute;left:123.53px;width:60px;text-align:center;top:690.60px;line-height:18.0px;white-space:nowrap;font-family:'Liberation Sans', sans-serif;font-size:15.0px;font-weight:normal;color:#1a1a1a;"><span style="display:inline-block;transform:scaleX(0.735);transform-origin:center 0;">4.21</span></div>
<div style="position:absolute;left:169.50px;width:60px;text-align:center;top:690.60px;line-height:18.0px;white-space:nowrap;font-family:'Liberation Sans', sans-serif;font-size:15.0px;font-weight:normal;color:#1a1a1a;"><span style="display:inline-block;transform:scaleX(0.735);transform-origin:center 0;">3.53</span></div>
<div style="position:absolute;left:216.00px;width:60px;text-align:center;top:690.60px;line-height:18.0px;white-space:nowrap;font-family:'Liberation Sans', sans-serif;font-size:15.0px;font-weight:normal;color:#1a1a1a;"><span style="display:inline-block;transform:scaleX(0.735);transform-origin:center 0;">2.76</span></div>
<div style="position:absolute;left:262.88px;width:60px;text-align:center;top:690.60px;line-height:18.0px;white-space:nowrap;font-family:'Liberation Sans', sans-serif;font-size:15.0px;font-weight:normal;color:#1a1a1a;"><span style="display:inline-block;transform:scaleX(0.735);transform-origin:center 0;">2.91</span></div>
<div style="position:absolute;left:310.95px;width:60px;text-align:center;top:690.60px;line-height:18.0px;white-space:nowrap;font-family:'Liberation Sans', sans-serif;font-size:15.0px;font-weight:normal;color:#1a1a1a;"><span style="display:inline-block;transform:scaleX(0.735);transform-origin:center 0;">1.85</span></div>
<div style="position:absolute;left:357.85px;width:60px;text-align:center;top:690.60px;line-height:18.0px;white-space:nowrap;font-family:'Liberation Sans', sans-serif;font-size:15.0px;font-weight:normal;color:#1a1a1a;"><span style="display:inline-block;transform:scaleX(0.735);transform-origin:center 0;">2.05</span></div>
<div style="position:absolute;left:402.65px;width:60px;text-align:center;top:690.60px;line-height:18.0px;white-space:nowrap;font-family:'Liberation Sans', sans-serif;font-size:15.0px;font-weight:normal;color:#1a1a1a;"><span style="display:inline-block;transform:scaleX(0.735);transform-origin:center 0;">1.68</span></div>
<div style="position:absolute;left:69.55px;width:60px;text-align:center;top:718.83px;line-height:18.72px;white-space:nowrap;font-family:'Liberation Sans', sans-serif;font-size:15.6px;font-weight:bold;color:#111;letter-spacing:0.6px;-webkit-text-stroke:0.3px #111;"><span style="display:inline-block;transform:scaleX(0.64);transform-origin:center 0;">C-E</span></div>
<div style="position:absolute;left:123.53px;width:60px;text-align:center;top:718.80px;line-height:18.0px;white-space:nowrap;font-family:'Liberation Sans', sans-serif;font-size:15.0px;font-weight:normal;color:#1a1a1a;"><span style="display:inline-block;transform:scaleX(0.735);transform-origin:center 0;">0.09</span></div>
<div style="position:absolute;left:169.50px;width:60px;text-align:center;top:718.80px;line-height:18.0px;white-space:nowrap;font-family:'Liberation Sans', sans-serif;font-size:15.0px;font-weight:normal;color:#1a1a1a;"><span style="display:inline-block;transform:scaleX(0.735);transform-origin:center 0;">0.24</span></div>
<div style="position:absolute;left:216.00px;width:60px;text-align:center;top:718.80px;line-height:18.0px;white-space:nowrap;font-family:'Liberation Sans', sans-serif;font-size:15.0px;font-weight:normal;color:#1a1a1a;"><span style="display:inline-block;transform:scaleX(0.735);transform-origin:center 0;">0.27</span></div>
<div style="position:absolute;left:262.88px;width:60px;text-align:center;top:718.80px;line-height:18.0px;white-space:nowrap;font-family:'Liberation Sans', sans-serif;font-size:15.0px;font-weight:normal;color:#1a1a1a;"><span style="display:inline-block;transform:scaleX(0.735);transform-origin:center 0;">0.14</span></div>
<div style="position:absolute;left:310.95px;width:60px;text-align:center;top:718.80px;line-height:18.0px;white-space:nowrap;font-family:'Liberation Sans', sans-serif;font-size:15.0px;font-weight:normal;color:#1a1a1a;"><span style="display:inline-block;transform:scaleX(0.735);transform-origin:center 0;">0.75</span></div>
<div style="position:absolute;left:357.85px;width:60px;text-align:center;top:718.80px;line-height:18.0px;white-space:nowrap;font-family:'Liberation Sans', sans-serif;font-size:15.0px;font-weight:normal;color:#1a1a1a;"><span style="display:inline-block;transform:scaleX(0.735);transform-origin:center 0;">0.31</span></div>
<div style="position:absolute;left:402.65px;width:60px;text-align:center;top:718.80px;line-height:18.0px;white-space:nowrap;font-family:'Liberation Sans', sans-serif;font-size:15.0px;font-weight:normal;color:#1a1a1a;"><span style="display:inline-block;transform:scaleX(0.735);transform-origin:center 0;">0.18</span></div>
<div style="position:absolute;left:69.55px;width:60px;text-align:center;top:747.03px;line-height:18.72px;white-space:nowrap;font-family:'Liberation Sans', sans-serif;font-size:15.6px;font-weight:bold;color:#111;letter-spacing:0.6px;-webkit-text-stroke:0.3px #111;"><span style="display:inline-block;transform:scaleX(0.64);transform-origin:center 0;">D-A</span></div>
<div style="position:absolute;left:123.53px;width:60px;text-align:center;top:747.00px;line-height:18.0px;white-space:nowrap;font-family:'Liberation Sans', sans-serif;font-size:15.0px;font-weight:normal;color:#1a1a1a;"><span style="display:inline-block;transform:scaleX(0.735);transform-origin:center 0;">2.30</span></div>
<div style="position:absolute;left:169.50px;width:60px;text-align:center;top:747.00px;line-height:18.0px;white-space:nowrap;font-family:'Liberation Sans', sans-serif;font-size:15.0px;font-weight:normal;color:#1a1a1a;"><span style="display:inline-block;transform:scaleX(0.735);transform-origin:center 0;">2.59</span></div>
<div style="position:absolute;left:216.00px;width:60px;text-align:center;top:747.00px;line-height:18.0px;white-space:nowrap;font-family:'Liberation Sans', sans-serif;font-size:15.0px;font-weight:normal;color:#1a1a1a;"><span style="display:inline-block;transform:scaleX(0.735);transform-origin:center 0;">2.54</span></div>
<div style="position:absolute;left:262.88px;width:60px;text-align:center;top:747.00px;line-height:18.0px;white-space:nowrap;font-family:'Liberation Sans', sans-serif;font-size:15.0px;font-weight:normal;color:#1a1a1a;"><span style="display:inline-block;transform:scaleX(0.735);transform-origin:center 0;">2.45</span></div>
<div style="position:absolute;left:310.95px;width:60px;text-align:center;top:747.00px;line-height:18.0px;white-space:nowrap;font-family:'Liberation Sans', sans-serif;font-size:15.0px;font-weight:normal;color:#1a1a1a;"><span style="display:inline-block;transform:scaleX(0.735);transform-origin:center 0;">2.58</span></div>
<div style="position:absolute;left:357.85px;width:60px;text-align:center;top:747.00px;line-height:18.0px;white-space:nowrap;font-family:'Liberation Sans', sans-serif;font-size:15.0px;font-weight:normal;color:#1a1a1a;"><span style="display:inline-block;transform:scaleX(0.735);transform-origin:center 0;">2.63</span></div>
<div style="position:absolute;left:402.65px;width:60px;text-align:center;top:747.00px;line-height:18.0px;white-space:nowrap;font-family:'Liberation Sans', sans-serif;font-size:15.0px;font-weight:normal;color:#1a1a1a;"><span style="display:inline-block;transform:scaleX(0.735);transform-origin:center 0;">2.88</span></div>
<div style="position:absolute;left:69.55px;width:60px;text-align:center;top:775.23px;line-height:18.72px;white-space:nowrap;font-family:'Liberation Sans', sans-serif;font-size:15.6px;font-weight:bold;color:#111;letter-spacing:0.6px;-webkit-text-stroke:0.3px #111;"><span style="display:inline-block;transform:scaleX(0.64);transform-origin:center 0;">D-B</span></div>
<div style="position:absolute;left:123.53px;width:60px;text-align:center;top:775.20px;line-height:18.0px;white-space:nowrap;font-family:'Liberation Sans', sans-serif;font-size:15.0px;font-weight:normal;color:#1a1a1a;"><span style="display:inline-block;transform:scaleX(0.735);transform-origin:center 0;">9.11</span></div>
<div style="position:absolute;left:169.50px;width:60px;text-align:center;top:775.20px;line-height:18.0px;white-space:nowrap;font-family:'Liberation Sans', sans-serif;font-size:15.0px;font-weight:normal;color:#1a1a1a;"><span style="display:inline-block;transform:scaleX(0.735);transform-origin:center 0;">9.83</span></div>
<div style="position:absolute;left:216.00px;width:60px;text-align:center;top:775.20px;line-height:18.0px;white-space:nowrap;font-family:'Liberation Sans', sans-serif;font-size:15.0px;font-weight:normal;color:#1a1a1a;"><span style="display:inline-block;transform:scaleX(0.735);transform-origin:center 0;">11.57</span></div>
<div style="position:absolute;left:262.88px;width:60px;text-align:center;top:775.20px;line-height:18.0px;white-space:nowrap;font-family:'Liberation Sans', sans-serif;font-size:15.0px;font-weight:normal;color:#1a1a1a;"><span style="display:inline-block;transform:scaleX(0.735);transform-origin:center 0;">11.97</span></div>
<div style="position:absolute;left:310.95px;width:60px;text-align:center;top:775.20px;line-height:18.0px;white-space:nowrap;font-family:'Liberation Sans', sans-serif;font-size:15.0px;font-weight:normal;color:#1a1a1a;"><span style="display:inline-block;transform:scaleX(0.735);transform-origin:center 0;">10.26</span></div>
<div style="position:absolute;left:357.85px;width:60px;text-align:center;top:775.20px;line-height:18.0px;white-space:nowrap;font-family:'Liberation Sans', sans-serif;font-size:15.0px;font-weight:normal;color:#1a1a1a;"><span style="display:inline-block;transform:scaleX(0.735);transform-origin:center 0;">12.25</span></div>
<div style="position:absolute;left:402.65px;width:60px;text-align:center;top:775.20px;line-height:18.0px;white-space:nowrap;font-family:'Liberation Sans', sans-serif;font-size:15.0px;font-weight:normal;color:#1a1a1a;"><span style="display:inline-block;transform:scaleX(0.735);transform-origin:center 0;">12.61</span></div>
<div style="position:absolute;left:69.55px;width:60px;text-align:center;top:803.43px;line-height:18.72px;white-space:nowrap;font-family:'Liberation Sans', sans-serif;font-size:15.6px;font-weight:bold;color:#111;letter-spacing:0.6px;-webkit-text-stroke:0.3px #111;"><span style="display:inline-block;transform:scaleX(0.64);transform-origin:center 0;">D-C</span></div>
<div style="position:absolute;left:123.53px;width:60px;text-align:center;top:803.40px;line-height:18.0px;white-space:nowrap;font-family:'Liberation Sans', sans-serif;font-size:15.0px;font-weight:normal;color:#1a1a1a;"><span style="display:inline-block;transform:scaleX(0.735);transform-origin:center 0;">36.74</span></div>
<div style="position:absolute;left:169.50px;width:60px;text-align:center;top:803.40px;line-height:18.0px;white-space:nowrap;font-family:'Liberation Sans', sans-serif;font-size:15.0px;font-weight:normal;color:#1a1a1a;"><span style="display:inline-block;transform:scaleX(0.735);transform-origin:center 0;">35.87</span></div>
<div style="position:absolute;left:216.00px;width:60px;text-align:center;top:803.40px;line-height:18.0px;white-space:nowrap;font-family:'Liberation Sans', sans-serif;font-size:15.0px;font-weight:normal;color:#1a1a1a;"><span style="display:inline-block;transform:scaleX(0.735);transform-origin:center 0;">34.53</span></div>
<div style="position:absolute;left:262.88px;width:60px;text-align:center;top:803.40px;line-height:18.0px;white-space:nowrap;font-family:'Liberation Sans', sans-serif;font-size:15.0px;font-weight:normal;color:#1a1a1a;"><span style="display:inline-block;transform:scaleX(0.735);transform-origin:center 0;">34.14</span></div>
<div style="position:absolute;left:310.95px;width:60px;text-align:center;top:803.40px;line-height:18.0px;white-space:nowrap;font-family:'Liberation Sans', sans-serif;font-size:15.0px;font-weight:normal;color:#1a1a1a;"><span style="display:inline-block;transform:scaleX(0.735);transform-origin:center 0;">23.13</span></div>
<div style="position:absolute;left:357.85px;width:60px;text-align:center;top:803.40px;line-height:18.0px;white-space:nowrap;font-family:'Liberation Sans', sans-serif;font-size:15.0px;font-weight:normal;color:#1a1a1a;"><span style="display:inline-block;transform:scaleX(0.735);transform-origin:center 0;">26.49</span></div>
<div style="position:absolute;left:402.65px;width:60px;text-align:center;top:803.40px;line-height:18.0px;white-space:nowrap;font-family:'Liberation Sans', sans-serif;font-size:15.0px;font-weight:normal;color:#1a1a1a;"><span style="display:inline-block;transform:scaleX(0.735);transform-origin:center 0;">25.27</span></div>
<div style="position:absolute;left:69.55px;width:60px;text-align:center;top:831.63px;line-height:18.72px;white-space:nowrap;font-family:'Liberation Sans', sans-serif;font-size:15.6px;font-weight:bold;color:#111;letter-spacing:0.6px;-webkit-text-stroke:0.3px #111;"><span style="display:inline-block;transform:scaleX(0.64);transform-origin:center 0;">D-D</span></div>
<div style="position:absolute;left:123.53px;width:60px;text-align:center;top:831.60px;line-height:18.0px;white-space:nowrap;font-family:'Liberation Sans', sans-serif;font-size:15.0px;font-weight:normal;color:#1a1a1a;"><span style="display:inline-block;transform:scaleX(0.735);transform-origin:center 0;">7.68</span></div>
<div style="position:absolute;left:169.50px;width:60px;text-align:center;top:831.60px;line-height:18.0px;white-space:nowrap;font-family:'Liberation Sans', sans-serif;font-size:15.0px;font-weight:normal;color:#1a1a1a;"><span style="display:inline-block;transform:scaleX(0.735);transform-origin:center 0;">7.67</span></div>
<div style="position:absolute;left:216.00px;width:60px;text-align:center;top:831.60px;line-height:18.0px;white-space:nowrap;font-family:'Liberation Sans', sans-serif;font-size:15.0px;font-weight:normal;color:#1a1a1a;"><span style="display:inline-block;transform:scaleX(0.735);transform-origin:center 0;">7.29</span></div>
<div style="position:absolute;left:262.88px;width:60px;text-align:center;top:831.60px;line-height:18.0px;white-space:nowrap;font-family:'Liberation Sans', sans-serif;font-size:15.0px;font-weight:normal;color:#1a1a1a;"><span style="display:inline-block;transform:scaleX(0.735);transform-origin:center 0;">6.81</span></div>
<div style="position:absolute;left:310.95px;width:60px;text-align:center;top:831.60px;line-height:18.0px;white-space:nowrap;font-family:'Liberation Sans', sans-serif;font-size:15.0px;font-weight:normal;color:#1a1a1a;"><span style="display:inline-block;transform:scaleX(0.735);transform-origin:center 0;">4.76</span></div>
<div style="position:absolute;left:357.85px;width:60px;text-align:center;top:831.60px;line-height:18.0px;white-space:nowrap;font-family:'Liberation Sans', sans-serif;font-size:15.0px;font-weight:normal;color:#1a1a1a;"><span style="display:inline-block;transform:scaleX(0.735);transform-origin:center 0;">5.75</span></div>
<div style="position:absolute;left:402.65px;width:60px;text-align:center;top:831.60px;line-height:18.0px;white-space:nowrap;font-family:'Liberation Sans', sans-serif;font-size:15.0px;font-weight:normal;color:#1a1a1a;"><span style="display:inline-block;transform:scaleX(0.735);transform-origin:center 0;">5.18</span></div>
<div style="position:absolute;left:69.55px;width:60px;text-align:center;top:859.83px;line-height:18.72px;white-space:nowrap;font-family:'Liberation Sans', sans-serif;font-size:15.6px;font-weight:bold;color:#111;letter-spacing:0.6px;-webkit-text-stroke:0.3px #111;"><span style="display:inline-block;transform:scaleX(0.64);transform-origin:center 0;">D-E</span></div>
<div style="position:absolute;left:123.53px;width:60px;text-align:center;top:859.80px;line-height:18.0px;white-space:nowrap;font-family:'Liberation Sans', sans-serif;font-size:15.0px;font-weight:normal;color:#1a1a1a;"><span style="display:inline-block;transform:scaleX(0.735);transform-origin:center 0;">0.39</span></div>
<div style="position:absolute;left:169.50px;width:60px;text-align:center;top:859.80px;line-height:18.0px;white-space:nowrap;font-family:'Liberation Sans', sans-serif;font-size:15.0px;font-weight:normal;color:#1a1a1a;"><span style="display:inline-block;transform:scaleX(0.735);transform-origin:center 0;">0.29</span></div>
<div style="position:absolute;left:216.00px;width:60px;text-align:center;top:859.80px;line-height:18.0px;white-space:nowrap;font-family:'Liberation Sans', sans-serif;font-size:15.0px;font-weight:normal;color:#1a1a1a;"><span style="display:inline-block;transform:scaleX(0.735);transform-origin:center 0;">0.19</span></div>
<div style="position:absolute;left:262.88px;width:60px;text-align:center;top:859.80px;line-height:18.0px;white-space:nowrap;font-family:'Liberation Sans', sans-serif;font-size:15.0px;font-weight:normal;color:#1a1a1a;"><span style="display:inline-block;transform:scaleX(0.735);transform-origin:center 0;">0.12</span></div>
<div style="position:absolute;left:310.95px;width:60px;text-align:center;top:859.80px;line-height:18.0px;white-space:nowrap;font-family:'Liberation Sans', sans-serif;font-size:15.0px;font-weight:normal;color:#1a1a1a;"><span style="display:inline-block;transform:scaleX(0.735);transform-origin:center 0;">0.13</span></div>
<div style="position:absolute;left:357.85px;width:60px;text-align:center;top:859.80px;line-height:18.0px;white-space:nowrap;font-family:'Liberation Sans', sans-serif;font-size:15.0px;font-weight:normal;color:#1a1a1a;"><span style="display:inline-block;transform:scaleX(0.735);transform-origin:center 0;">0.07</span></div>
<div style="position:absolute;left:402.65px;width:60px;text-align:center;top:859.80px;line-height:18.0px;white-space:nowrap;font-family:'Liberation Sans', sans-serif;font-size:15.0px;font-weight:normal;color:#1a1a1a;"><span style="display:inline-block;transform:scaleX(0.735);transform-origin:center 0;">0.01</span></div>
<div style="position:absolute;left:69.55px;width:60px;text-align:center;top:888.03px;line-height:18.72px;white-space:nowrap;font-family:'Liberation Sans', sans-serif;font-size:15.6px;font-weight:bold;color:#111;letter-spacing:0.6px;-webkit-text-stroke:0.3px #111;"><span style="display:inline-block;transform:scaleX(0.64);transform-origin:center 0;">E-A</span></div>
<div style="position:absolute;left:123.53px;width:60px;text-align:center;top:888.00px;line-height:18.0px;white-space:nowrap;font-family:'Liberation Sans', sans-serif;font-size:15.0px;font-weight:normal;color:#1a1a1a;"><span style="display:inline-block;transform:scaleX(0.735);transform-origin:center 0;">0.83</span></div>
<div style="position:absolute;left:169.50px;width:60px;text-align:center;top:888.00px;line-height:18.0px;white-space:nowrap;font-family:'Liberation Sans', sans-serif;font-size:15.0px;font-weight:normal;color:#1a1a1a;"><span style="display:inline-block;transform:scaleX(0.735);transform-origin:center 0;">0.70</span></div>
<div style="position:absolute;left:216.00px;width:60px;text-align:center;top:888.00px;line-height:18.0px;white-space:nowrap;font-family:'Liberation Sans', sans-serif;font-size:15.0px;font-weight:normal;color:#1a1a1a;"><span style="display:inline-block;transform:scaleX(0.735);transform-origin:center 0;">0.68</span></div>
<div style="position:absolute;left:262.88px;width:60px;text-align:center;top:888.00px;line-height:18.0px;white-space:nowrap;font-family:'Liberation Sans', sans-serif;font-size:15.0px;font-weight:normal;color:#1a1a1a;"><span style="display:inline-block;transform:scaleX(0.735);transform-origin:center 0;">0.62</span></div>
<div style="position:absolute;left:310.95px;width:60px;text-align:center;top:888.00px;line-height:18.0px;white-space:nowrap;font-family:'Liberation Sans', sans-serif;font-size:15.0px;font-weight:normal;color:#1a1a1a;"><span style="display:inline-block;transform:scaleX(0.735);transform-origin:center 0;">0.95</span></div>
<div style="position:absolute;left:357.85px;width:60px;text-align:center;top:888.00px;line-height:18.0px;white-space:nowrap;font-family:'Liberation Sans', sans-serif;font-size:15.0px;font-weight:normal;color:#1a1a1a;"><span style="display:inline-block;transform:scaleX(0.735);transform-origin:center 0;">0.53</span></div>
<div style="position:absolute;left:402.65px;width:60px;text-align:center;top:888.00px;line-height:18.0px;white-space:nowrap;font-family:'Liberation Sans', sans-serif;font-size:15.0px;font-weight:normal;color:#1a1a1a;"><span style="display:inline-block;transform:scaleX(0.735);transform-origin:center 0;">0.22</span></div>
<div style="position:absolute;left:69.55px;width:60px;text-align:center;top:916.23px;line-height:18.72px;white-space:nowrap;font-family:'Liberation Sans', sans-serif;font-size:15.6px;font-weight:bold;color:#111;letter-spacing:0.6px;-webkit-text-stroke:0.3px #111;"><span style="display:inline-block;transform:scaleX(0.64);transform-origin:center 0;">E-B</span></div>
<div style="position:absolute;left:123.53px;width:60px;text-align:center;top:916.20px;line-height:18.0px;white-space:nowrap;font-family:'Liberation Sans', sans-serif;font-size:15.0px;font-weight:normal;color:#1a1a1a;"><span style="display:inline-block;transform:scaleX(0.735);transform-origin:center 0;">4.79</span></div>
<div style="position:absolute;left:169.50px;width:60px;text-align:center;top:916.20px;line-height:18.0px;white-space:nowrap;font-family:'Liberation Sans', sans-serif;font-size:15.0px;font-weight:normal;color:#1a1a1a;"><span style="display:inline-block;transform:scaleX(0.735);transform-origin:center 0;">4.35</span></div>
<div style="position:absolute;left:216.00px;width:60px;text-align:center;top:916.20px;line-height:18.0px;white-space:nowrap;font-family:'Liberation Sans', sans-serif;font-size:15.0px;font-weight:normal;color:#1a1a1a;"><span style="display:inline-block;transform:scaleX(0.735);transform-origin:center 0;">4.12</span></div>
<div style="position:absolute;left:262.88px;width:60px;text-align:center;top:916.20px;line-height:18.0px;white-space:nowrap;font-family:'Liberation Sans', sans-serif;font-size:15.0px;font-weight:normal;color:#1a1a1a;"><span style="display:inline-block;transform:scaleX(0.735);transform-origin:center 0;">3.22</span></div>
<div style="position:absolute;left:310.95px;width:60px;text-align:center;top:916.20px;line-height:18.0px;white-space:nowrap;font-family:'Liberation Sans', sans-serif;font-size:15.0px;font-weight:normal;color:#1a1a1a;"><span style="display:inline-block;transform:scaleX(0.735);transform-origin:center 0;">4.83</span></div>
<div style="position:absolute;left:357.85px;width:60px;text-align:center;top:916.20px;line-height:18.0px;white-space:nowrap;font-family:'Liberation Sans', sans-serif;font-size:15.0px;font-weight:normal;color:#1a1a1a;"><span style="display:inline-block;transform:scaleX(0.735);transform-origin:center 0;">3.11</span></div>
<div style="position:absolute;left:402.65px;width:60px;text-align:center;top:916.20px;line-height:18.0px;white-space:nowrap;font-family:'Liberation Sans', sans-serif;font-size:15.0px;font-weight:normal;color:#1a1a1a;"><span style="display:inline-block;transform:scaleX(0.735);transform-origin:center 0;">2.89</span></div>
<div style="position:absolute;left:69.55px;width:60px;text-align:center;top:944.43px;line-height:18.72px;white-space:nowrap;font-family:'Liberation Sans', sans-serif;font-size:15.6px;font-weight:bold;color:#111;letter-spacing:0.6px;-webkit-text-stroke:0.3px #111;"><span style="display:inline-block;transform:scaleX(0.64);transform-origin:center 0;">E-C</span></div>
<div style="position:absolute;left:123.53px;width:60px;text-align:center;top:944.40px;line-height:18.0px;white-space:nowrap;font-family:'Liberation Sans', sans-serif;font-size:15.0px;font-weight:normal;color:#1a1a1a;"><span style="display:inline-block;transform:scaleX(0.735);transform-origin:center 0;">7.57</span></div>
<div style="position:absolute;left:169.50px;width:60px;text-align:center;top:944.40px;line-height:18.0px;white-space:nowrap;font-family:'Liberation Sans', sans-serif;font-size:15.0px;font-weight:normal;color:#1a1a1a;"><span style="display:inline-block;transform:scaleX(0.735);transform-origin:center 0;">6.77</span></div>
<div style="position:absolute;left:216.00px;width:60px;text-align:center;top:944.40px;line-height:18.0px;white-space:nowrap;font-family:'Liberation Sans', sans-serif;font-size:15.0px;font-weight:normal;color:#1a1a1a;"><span style="display:inline-block;transform:scaleX(0.735);transform-origin:center 0;">6.03</span></div>
<div style="position:absolute;left:262.88px;width:60px;text-align:center;top:944.40px;line-height:18.0px;white-space:nowrap;font-family:'Liberation Sans', sans-serif;font-size:15.0px;font-weight:normal;color:#1a1a1a;"><span style="display:inline-block;transform:scaleX(0.735);transform-origin:center 0;">4.82</span></div>
<div style="position:absolute;left:310.95px;width:60px;text-align:center;top:944.40px;line-height:18.0px;white-space:nowrap;font-family:'Liberation Sans', sans-serif;font-size:15.0px;font-weight:normal;color:#1a1a1a;"><span style="display:inline-block;transform:scaleX(0.735);transform-origin:center 0;">12.12</span></div>
<div style="position:absolute;left:357.85px;width:60px;text-align:center;top:944.40px;line-height:18.0px;white-space:nowrap;font-family:'Liberation Sans', sans-serif;font-size:15.0px;font-weight:normal;color:#1a1a1a;"><span style="display:inline-block;transform:scaleX(0.735);transform-origin:center 0;">5.57</span></div>
<div style="position:absolute;left:402.65px;width:60px;text-align:center;top:944.40px;line-height:18.0px;white-space:nowrap;font-family:'Liberation Sans', sans-serif;font-size:15.0px;font-weight:normal;color:#1a1a1a;"><span style="display:inline-block;transform:scaleX(0.735);transform-origin:center 0;">4.49</span></div>
<div style="position:absolute;left:69.55px;width:60px;text-align:center;top:972.63px;line-height:18.72px;white-space:nowrap;font-family:'Liberation Sans', sans-serif;font-size:15.6px;font-weight:bold;color:#111;letter-spacing:0.6px;-webkit-text-stroke:0.3px #111;"><span style="display:inline-block;transform:scaleX(0.64);transform-origin:center 0;">E-D</span></div>
<div style="position:absolute;left:123.53px;width:60px;text-align:center;top:972.60px;line-height:18.0px;white-space:nowrap;font-family:'Liberation Sans', sans-serif;font-size:15.0px;font-weight:normal;color:#1a1a1a;"><span style="display:inline-block;transform:scaleX(0.735);transform-origin:center 0;">4.30</span></div>
<div style="position:absolute;left:169.50px;width:60px;text-align:center;top:972.60px;line-height:18.0px;white-space:nowrap;font-family:'Liberation Sans', sans-serif;font-size:15.0px;font-weight:normal;color:#1a1a1a;"><span style="display:inline-block;transform:scaleX(0.735);transform-origin:center 0;">3.41</span></div>
<div style="position:absolute;left:216.00px;width:60px;text-align:center;top:972.60px;line-height:18.0px;white-space:nowrap;font-family:'Liberation Sans', sans-serif;font-size:15.0px;font-weight:normal;color:#1a1a1a;"><span style="display:inline-block;transform:scaleX(0.735);transform-origin:center 0;">3.21</span></div>
<div style="position:absolute;left:262.88px;width:60px;text-align:center;top:972.60px;line-height:18.0px;white-space:nowrap;font-family:'Liberation Sans', sans-serif;font-size:15.0px;font-weight:normal;color:#1a1a1a;"><span style="display:inline-block;transform:scaleX(0.735);transform-origin:center 0;">2.83</span></div>
<div style="position:absolute;left:310.95px;width:60px;text-align:center;top:972.60px;line-height:18.0px;white-space:nowrap;font-family:'Liberation Sans', sans-serif;font-size:15.0px;font-weight:normal;color:#1a1a1a;"><span style="display:inline-block;transform:scaleX(0.735);transform-origin:center 0;">2.34</span></div>
<div style="position:absolute;left:357.85px;width:60px;text-align:center;top:972.60px;line-height:18.0px;white-space:nowrap;font-family:'Liberation Sans', sans-serif;font-size:15.0px;font-weight:normal;color:#1a1a1a;"><span style="display:inline-block;transform:scaleX(0.735);transform-origin:center 0;">2.01</span></div>
<div style="position:absolute;left:402.65px;width:60px;text-align:center;top:972.60px;line-height:18.0px;white-space:nowrap;font-family:'Liberation Sans', sans-serif;font-size:15.0px;font-weight:normal;color:#1a1a1a;"><span style="display:inline-block;transform:scaleX(0.735);transform-origin:center 0;">1.06</span></div>
<div style="position:absolute;left:69.55px;width:60px;text-align:center;top:1000.83px;line-height:18.72px;white-space:nowrap;font-family:'Liberation Sans', sans-serif;font-size:15.6px;font-weight:bold;color:#111;letter-spacing:0.6px;-webkit-text-stroke:0.3px #111;"><span style="display:inline-block;transform:scaleX(0.64);transform-origin:center 0;">E-E</span></div>
<div style="position:absolute;left:123.53px;width:60px;text-align:center;top:1000.80px;line-height:18.0px;white-space:nowrap;font-family:'Liberation Sans', sans-serif;font-size:15.0px;font-weight:normal;color:#1a1a1a;"><span style="display:inline-block;transform:scaleX(0.735);transform-origin:center 0;">0.22</span></div>
<div style="position:absolute;left:169.50px;width:60px;text-align:center;top:1000.80px;line-height:18.0px;white-space:nowrap;font-family:'Liberation Sans', sans-serif;font-size:15.0px;font-weight:normal;color:#1a1a1a;"><span style="display:inline-block;transform:scaleX(0.735);transform-origin:center 0;">0.16</span></div>
<div style="position:absolute;left:216.00px;width:60px;text-align:center;top:1000.80px;line-height:18.0px;white-space:nowrap;font-family:'Liberation Sans', sans-serif;font-size:15.0px;font-weight:normal;color:#1a1a1a;"><span style="display:inline-block;transform:scaleX(0.735);transform-origin:center 0;">0.13</span></div>
<div style="position:absolute;left:262.88px;width:60px;text-align:center;top:1000.80px;line-height:18.0px;white-space:nowrap;font-family:'Liberation Sans', sans-serif;font-size:15.0px;font-weight:normal;color:#1a1a1a;"><span style="display:inline-block;transform:scaleX(0.735);transform-origin:center 0;">0.06</span></div>
<div style="position:absolute;left:310.95px;width:60px;text-align:center;top:1000.80px;line-height:18.0px;white-space:nowrap;font-family:'Liberation Sans', sans-serif;font-size:15.0px;font-weight:normal;color:#1a1a1a;"><span style="display:inline-block;transform:scaleX(0.735);transform-origin:center 0;">1.74</span></div>
<div style="position:absolute;left:357.85px;width:60px;text-align:center;top:1000.80px;line-height:18.0px;white-space:nowrap;font-family:'Liberation Sans', sans-serif;font-size:15.0px;font-weight:normal;color:#1a1a1a;"><span style="display:inline-block;transform:scaleX(0.735);transform-origin:center 0;">0.46</span></div>
<div style="position:absolute;left:402.65px;width:60px;text-align:center;top:1000.80px;line-height:18.0px;white-space:nowrap;font-family:'Liberation Sans', sans-serif;font-size:15.0px;font-weight:normal;color:#1a1a1a;"><span style="display:inline-block;transform:scaleX(0.735);transform-origin:center 0;">0.50</span></div>
<div style="position:absolute;left:474.30px;top:169.30px;width:19.00px;height:20.00px;background:#1b1a1a;"></div>
<div style="position:absolute;left:474.30px;width:19px;text-align:center;top:171.87px;line-height:15.0px;white-space:nowrap;font-family:'Liberation Sans', sans-serif;font-size:12.5px;font-weight:bold;color:#ffffff;"><span style="display:inline-block;">12</span></div>
<div style="position:absolute;left:474.00px;top:188.60px;width:609.20px;height:283.20px;border:1.4px solid #666666;"></div>
<svg width="1200" height="1100" style="position:absolute;left:0;top:0"><line x1="503" y1="457.80" x2="1056" y2="457.80" stroke="#ececec" stroke-width="1.1"/><line x1="503" y1="432.21" x2="1056" y2="432.21" stroke="#ececec" stroke-width="1.1"/><line x1="503" y1="406.62" x2="1056" y2="406.62" stroke="#ececec" stroke-width="1.1"/><line x1="503" y1="381.03" x2="1056" y2="381.03" stroke="#ececec" stroke-width="1.1"/><line x1="503" y1="355.44" x2="1056" y2="355.44" stroke="#ececec" stroke-width="1.1"/><line x1="503" y1="329.85" x2="1056" y2="329.85" stroke="#ececec" stroke-width="1.1"/><line x1="503" y1="304.26" x2="1056" y2="304.26" stroke="#ececec" stroke-width="1.1"/><line x1="503" y1="278.67" x2="1056" y2="278.67" stroke="#ececec" stroke-width="1.1"/><line x1="503" y1="253.08" x2="1056" y2="253.08" stroke="#ececec" stroke-width="1.1"/><line x1="503" y1="227.49" x2="1056" y2="227.49" stroke="#ececec" stroke-width="1.1"/><line x1="503" y1="201.90" x2="1056" y2="201.90" stroke="#ececec" stroke-width="1.1"/></svg>
<div style="position:absolute;left:519.10px;top:201.90px;width:20.20px;height:255.90px;background:#e20b18;"></div>
<div style="position:absolute;left:519.10px;top:272.53px;width:20.20px;height:185.27px;background:#f6b510;"></div>
<div style="position:absolute;left:519.10px;top:405.85px;width:20.20px;height:51.95px;background:#e9e10b;"></div>
<div style="position:absolute;left:519.10px;top:455.50px;width:20.20px;height:2.30px;background:#8ab236;"></div>
<div style="position:absolute;left:564.81px;top:201.90px;width:20.20px;height:255.90px;background:#e20b18;"></div>
<div style="position:absolute;left:564.81px;top:270.74px;width:20.20px;height:187.06px;background:#f6b510;"></div>
<div style="position:absolute;left:564.81px;top:408.92px;width:20.20px;height:48.88px;background:#e9e10b;"></div>
<div style="position:absolute;left:564.81px;top:454.22px;width:20.20px;height:3.58px;background:#8ab236;"></div>
<div style="position:absolute;left:610.52px;top:201.90px;width:20.20px;height:255.90px;background:#e20b18;"></div>
<div style="position:absolute;left:610.52px;top:262.55px;width:20.20px;height:195.25px;background:#f6b510;"></div>
<div style="position:absolute;left:610.52px;top:403.55px;width:20.20px;height:54.25px;background:#e9e10b;"></div>
<div style="position:absolute;left:610.52px;top:454.22px;width:20.20px;height:3.58px;background:#8ab236;"></div>
<div style="position:absolute;left:656.23px;top:201.90px;width:20.20px;height:255.90px;background:#e20b18;"></div>
<div style="position:absolute;left:656.23px;top:257.17px;width:20.20px;height:200.63px;background:#f6b510;"></div>
<div style="position:absolute;left:656.23px;top:399.97px;width:20.20px;height:57.83px;background:#e9e10b;"></div>
<div style="position:absolute;left:656.23px;top:453.19px;width:20.20px;height:4.61px;background:#8ab236;"></div>
<div style="position:absolute;left:701.94px;top:201.90px;width:20.20px;height:255.90px;background:#e20b18;"></div>
<div style="position:absolute;left:701.94px;top:254.36px;width:20.20px;height:203.44px;background:#f6b510;"></div>
<div style="position:absolute;left:701.94px;top:396.38px;width:20.20px;height:61.42px;background:#e9e10b;"></div>
<div style="position:absolute;left:701.94px;top:454.22px;width:20.20px;height:3.58px;background:#8ab236;"></div>
<div style="position:absolute;left:747.65px;top:201.90px;width:20.20px;height:255.90px;background:#e20b18;"></div>
<div style="position:absolute;left:747.65px;top:247.96px;width:20.20px;height:209.84px;background:#f6b510;"></div>
<div style="position:absolute;left:747.65px;top:392.29px;width:20.20px;height:65.51px;background:#e9e10b;"></div>
<div style="position:absolute;left:747.65px;top:454.22px;width:20.20px;height:3.58px;background:#8ab236;"></div>
<div style="position:absolute;left:793.36px;top:201.90px;width:20.20px;height:255.90px;background:#e20b18;"></div>
<div style="position:absolute;left:793.36px;top:242.08px;width:20.20px;height:215.72px;background:#f6b510;"></div>
<div style="position:absolute;left:793.36px;top:386.40px;width:20.20px;height:71.40px;background:#e9e10b;"></div>
<div style="position:absolute;left:793.36px;top:452.94px;width:20.20px;height:4.86px;background:#8ab236;"></div>
<div style="position:absolute;left:839.07px;top:201.90px;width:20.20px;height:255.90px;background:#e20b18;"></div>
<div style="position:absolute;left:839.07px;top:239.77px;width:20.20px;height:218.03px;background:#f6b510;"></div>
<div style="position:absolute;left:839.07px;top:383.08px;width:20.20px;height:74.72px;background:#e9e10b;"></div>
<div style="position:absolute;left:839.07px;top:452.94px;width:20.20px;height:4.86px;background:#8ab236;"></div>
<div style="position:absolute;left:884.78px;top:201.90px;width:20.20px;height:255.90px;background:#e20b18;"></div>
<div style="position:absolute;left:884.78px;top:232.61px;width:20.20px;height:225.19px;background:#f6b510;"></div>
<div style="position:absolute;left:884.78px;top:373.61px;width:20.20px;height:84.19px;background:#e9e10b;"></div>
<div style="position:absolute;left:884.78px;top:452.94px;width:20.20px;height:4.86px;background:#8ab236;"></div>
<div style="position:absolute;left:930.49px;top:201.90px;width:20.20px;height:255.90px;background:#e20b18;"></div>
<div style="position:absolute;left:930.49px;top:259.22px;width:20.20px;height:198.58px;background:#f6b510;"></div>
<div style="position:absolute;left:930.49px;top:363.88px;width:20.20px;height:93.92px;background:#e9e10b;"></div>
<div style="position:absolute;left:930.49px;top:452.94px;width:20.20px;height:4.86px;background:#8ab236;"></div>
<div style="position:absolute;left:976.20px;top:201.90px;width:20.20px;height:255.90px;background:#e20b18;"></div>
<div style="position:absolute;left:976.20px;top:232.61px;width:20.20px;height:225.19px;background:#f6b510;"></div>
<div style="position:absolute;left:976.20px;top:353.39px;width:20.20px;height:104.41px;background:#e9e10b;"></div>
<div style="position:absolute;left:976.20px;top:451.15px;width:20.20px;height:6.65px;background:#8ab236;"></div>
<div style="position:absolute;left:1021.91px;top:201.90px;width:20.20px;height:255.90px;background:#e20b18;"></div>
<div style="position:absolute;left:1021.91px;top:226.47px;width:20.20px;height:231.33px;background:#f6b510;"></div>
<div style="position:absolute;left:1021.91px;top:344.18px;width:20.20px;height:113.62px;background:#e9e10b;"></div>
<div style="position:absolute;left:1021.91px;top:449.61px;width:20.20px;height:8.19px;background:#8ab236;"></div>
<div style="position:absolute;right:699.00px;text-align:right;top:454.88px;line-height:6.24px;white-space:nowrap;font-family:'Liberation Sans', sans-serif;font-size:5.2px;font-weight:normal;color:#9a9a9a;"><span style="display:inline-block;">0%</span></div>
<div style="position:absolute;right:699.00px;text-align:right;top:429.29px;line-height:6.24px;white-space:nowrap;font-family:'Liberation Sans', sans-serif;font-size:5.2px;font-weight:normal;color:#9a9a9a;"><span style="display:inline-block;">10%</span></div>
<div style="position:absolute;right:699.00px;text-align:right;top:403.70px;line-height:6.24px;white-space:nowrap;font-family:'Liberation Sans', sans-serif;font-size:5.2px;font-weight:normal;color:#9a9a9a;"><span style="display:inline-block;">20%</span></div>
<div style="position:absolute;right:699.00px;text-align:right;top:378.11px;line-height:6.24px;white-space:nowrap;font-family:'Liberation Sans', sans-serif;font-size:5.2px;font-weight:normal;color:#9a9a9a;"><span style="display:inline-block;">30%</span></div>
<div style="position:absolute;right:699.00px;text-align:right;top:352.52px;line-height:6.24px;white-space:nowrap;font-family:'Liberation Sans', sans-serif;font-size:5.2px;font-weight:normal;color:#9a9a9a;"><span style="display:inline-block;">40%</span></div>
<div style="position:absolute;right:699.00px;text-align:right;top:326.93px;line-height:6.24px;white-space:nowrap;font-family:'Liberation Sans', sans-serif;font-size:5.2px;font-weight:normal;color:#9a9a9a;"><span style="display:inline-block;">50%</span></div>
<div style="position:absolute;right:699.00px;text-align:right;top:301.34px;line-height:6.24px;white-space:nowrap;font-family:'Liberation Sans', sans-serif;font-size:5.2px;font-weight:normal;color:#9a9a9a;"><span style="display:inline-block;">60%</span></div>
<div style="position:absolute;right:699.00px;text-align:right;top:275.75px;line-height:6.24px;white-space:nowrap;font-family:'Liberation Sans', sans-serif;font-size:5.2px;font-weight:normal;color:#9a9a9a;"><span style="display:inline-block;">70%</span></div>
<div style="position:absolute;right:699.00px;text-align:right;top:250.16px;line-height:6.24px;white-space:nowrap;font-family:'Liberation Sans', sans-serif;font-size:5.2px;font-weight:normal;color:#9a9a9a;"><span style="display:inline-block;">80%</span></div>
<div style="position:absolute;right:699.00px;text-align:right;top:224.57px;line-height:6.24px;white-space:nowrap;font-family:'Liberation Sans', sans-serif;font-size:5.2px;font-weight:normal;color:#9a9a9a;"><span style="display:inline-block;">90%</span></div>
<div style="position:absolute;right:699.00px;text-align:right;top:198.98px;line-height:6.24px;white-space:nowrap;font-family:'Liberation Sans', sans-serif;font-size:5.2px;font-weight:normal;color:#9a9a9a;"><span style="display:inline-block;">100%</span></div>
<div style="position:absolute;left:509.20px;width:40px;text-align:center;top:462.90px;line-height:6.72px;white-space:nowrap;font-family:'Liberation Sans', sans-serif;font-size:5.6px;font-weight:bold;color:#787878;"><span style="display:inline-block;">2012</span></div>
<div style="position:absolute;left:554.91px;width:40px;text-align:center;top:462.90px;line-height:6.72px;white-space:nowrap;font-family:'Liberation Sans', sans-serif;font-size:5.6px;font-weight:bold;color:#787878;"><span style="display:inline-block;">2013</span></div>
<div style="position:absolute;left:600.62px;width:40px;text-align:center;top:462.90px;line-height:6.72px;white-space:nowrap;font-family:'Liberation Sans', sans-serif;font-size:5.6px;font-weight:bold;color:#787878;"><span style="display:inline-block;">2014</span></div>
<div style="position:absolute;left:646.33px;width:40px;text-align:center;top:462.90px;line-height:6.72px;white-space:nowrap;font-family:'Liberation Sans', sans-serif;font-size:5.6px;font-weight:bold;color:#787878;"><span style="display:inline-block;">2015</span></div>
<div style="position:absolute;left:692.04px;width:40px;text-align:center;top:462.90px;line-height:6.72px;white-space:nowrap;font-family:'Liberation Sans', sans-serif;font-size:5.6px;font-weight:bold;color:#787878;"><span style="display:inline-block;">2016</span></div>
<div style="position:absolute;left:737.75px;width:40px;text-align:center;top:462.90px;line-height:6.72px;white-space:nowrap;font-family:'Liberation Sans', sans-serif;font-size:5.6px;font-weight:bold;color:#787878;"><span style="display:inline-block;">2017</span></div>
<div style="position:absolute;left:783.46px;width:40px;text-align:center;top:462.90px;line-height:6.72px;white-space:nowrap;font-family:'Liberation Sans', sans-serif;font-size:5.6px;font-weight:bold;color:#787878;"><span style="display:inline-block;">2018</span></div>
<div style="position:absolute;left:829.17px;width:40px;text-align:center;top:462.90px;line-height:6.72px;white-space:nowrap;font-family:'Liberation Sans', sans-serif;font-size:5.6px;font-weight:bold;color:#787878;"><span style="display:inline-block;">2019</span></div>
<div style="position:absolute;left:874.88px;width:40px;text-align:center;top:462.90px;line-height:6.72px;white-space:nowrap;font-family:'Liberation Sans', sans-serif;font-size:5.6px;font-weight:bold;color:#787878;"><span style="display:inline-block;">2020</span></div>
<div style="position:absolute;left:920.59px;width:40px;text-align:center;top:462.90px;line-height:6.72px;white-space:nowrap;font-family:'Liberation Sans', sans-serif;font-size:5.6px;font-weight:bold;color:#787878;"><span style="display:inline-block;">2021</span></div>
<div style="position:absolute;left:966.30px;width:40px;text-align:center;top:462.90px;line-height:6.72px;white-space:nowrap;font-family:'Liberation Sans', sans-serif;font-size:5.6px;font-weight:bold;color:#787878;"><span style="display:inline-block;">2022</span></div>
<div style="position:absolute;left:1012.01px;width:40px;text-align:center;top:462.90px;line-height:6.72px;white-space:nowrap;font-family:'Liberation Sans', sans-serif;font-size:5.6px;font-weight:bold;color:#787878;"><span style="display:inline-block;">2023</span></div>
<div style="position:absolute;left:1065.00px;top:308.80px;width:5.60px;height:5.60px;background:#d4202f;"></div>
<div style="position:absolute;left:1070.80px;top:309.17px;line-height:6.0px;white-space:nowrap;font-family:'Liberation Sans', sans-serif;font-size:5px;font-weight:normal;color:#a0a0a0;"><span style="display:inline-block;">E</span></div>
<div style="position:absolute;left:1065.00px;top:320.20px;width:5.60px;height:5.60px;background:#e3b43a;"></div>
<div style="position:absolute;left:1070.80px;top:320.57px;line-height:6.0px;white-space:nowrap;font-family:'Liberation Sans', sans-serif;font-size:5px;font-weight:normal;color:#a0a0a0;"><span style="display:inline-block;">D</span></div>
<div style="position:absolute;left:1065.00px;top:331.60px;width:5.60px;height:5.60px;background:#e3df4a;"></div>
<div style="position:absolute;left:1070.80px;top:331.97px;line-height:6.0px;white-space:nowrap;font-family:'Liberation Sans', sans-serif;font-size:5px;font-weight:normal;color:#a0a0a0;"><span style="display:inline-block;">C</span></div>
<div style="position:absolute;left:1065.00px;top:343.00px;width:5.60px;height:5.60px;background:#8fb14b;"></div>
<div style="position:absolute;left:1070.80px;top:343.37px;line-height:6.0px;white-space:nowrap;font-family:'Liberation Sans', sans-serif;font-size:5px;font-weight:normal;color:#a0a0a0;"><span style="display:inline-block;">B</span></div>
<div style="position:absolute;left:1065.00px;top:354.40px;width:5.60px;height:5.60px;background:#1f8a4d;"></div>
<div style="position:absolute;left:1070.80px;top:354.77px;line-height:6.0px;white-space:nowrap;font-family:'Liberation Sans', sans-serif;font-size:5px;font-weight:normal;color:#a0a0a0;"><span style="display:inline-block;">A</span></div>
<div style="position:absolute;left:474.30px;top:493.00px;width:19.00px;height:20.00px;background:#1b1a1a;"></div>
<div style="position:absolute;left:474.30px;width:19px;text-align:center;top:495.57px;line-height:15.0px;white-space:nowrap;font-family:'Liberation Sans', sans-serif;font-size:12.5px;font-weight:bold;color:#ffffff;"><span style="display:inline-block;">13</span></div>
<div style="position:absolute;left:474.00px;top:511.80px;width:609.20px;height:240.00px;border:1.6px solid #737373;"></div>
<svg width="1200" height="1100" style="position:absolute;left:0;top:0"><line x1="497" y1="737.50" x2="1055.5" y2="737.50" stroke="#ececec" stroke-width="1.1"/><line x1="497" y1="715.92" x2="1055.5" y2="715.92" stroke="#ececec" stroke-width="1.1"/><line x1="497" y1="694.34" x2="1055.5" y2="694.34" stroke="#ececec" stroke-width="1.1"/><line x1="497" y1="672.76" x2="1055.5" y2="672.76" stroke="#ececec" stroke-width="1.1"/><line x1="497" y1="651.18" x2="1055.5" y2="651.18" stroke="#ececec" stroke-width="1.1"/><line x1="497" y1="629.60" x2="1055.5" y2="629.60" stroke="#ececec" stroke-width="1.1"/><line x1="497" y1="608.02" x2="1055.5" y2="608.02" stroke="#ececec" stroke-width="1.1"/><line x1="497" y1="586.44" x2="1055.5" y2="586.44" stroke="#ececec" stroke-width="1.1"/><line x1="497" y1="564.86" x2="1055.5" y2="564.86" stroke="#ececec" stroke-width="1.1"/><line x1="497" y1="543.28" x2="1055.5" y2="543.28" stroke="#ececec" stroke-width="1.1"/><line x1="497" y1="521.70" x2="1055.5" y2="521.70" stroke="#ececec" stroke-width="1.1"/></svg>
<div style="position:absolute;left:513.60px;top:521.70px;width:20.30px;height:215.80px;background:#d6e4f3;"></div>
<div style="position:absolute;left:513.60px;top:524.51px;width:20.30px;height:212.99px;background:#b1cae7;"></div>
<div style="position:absolute;left:513.60px;top:578.89px;width:20.30px;height:158.61px;background:#8fb1da;"></div>
<div style="position:absolute;left:513.60px;top:694.34px;width:20.30px;height:43.16px;background:#3d80c1;"></div>
<div style="position:absolute;left:513.60px;top:734.05px;width:20.30px;height:3.45px;background:#2b5f9b;"></div>
<div style="position:absolute;left:559.82px;top:521.70px;width:20.30px;height:215.80px;background:#d6e4f3;"></div>
<div style="position:absolute;left:559.82px;top:529.90px;width:20.30px;height:207.60px;background:#b1cae7;"></div>
<div style="position:absolute;left:559.82px;top:578.89px;width:20.30px;height:158.61px;background:#8fb1da;"></div>
<div style="position:absolute;left:559.82px;top:696.28px;width:20.30px;height:41.22px;background:#3d80c1;"></div>
<div style="position:absolute;left:559.82px;top:732.11px;width:20.30px;height:5.39px;background:#2b5f9b;"></div>
<div style="position:absolute;left:606.04px;top:521.70px;width:20.30px;height:215.80px;background:#d6e4f3;"></div>
<div style="position:absolute;left:606.04px;top:526.88px;width:20.30px;height:210.62px;background:#b1cae7;"></div>
<div style="position:absolute;left:606.04px;top:571.77px;width:20.30px;height:165.73px;background:#8fb1da;"></div>
<div style="position:absolute;left:606.04px;top:689.59px;width:20.30px;height:47.91px;background:#3d80c1;"></div>
<div style="position:absolute;left:606.04px;top:729.95px;width:20.30px;height:7.55px;background:#2b5f9b;"></div>
<div style="position:absolute;left:652.26px;top:521.70px;width:20.30px;height:215.80px;background:#d6e4f3;"></div>
<div style="position:absolute;left:652.26px;top:523.64px;width:20.30px;height:213.86px;background:#b1cae7;"></div>
<div style="position:absolute;left:652.26px;top:568.31px;width:20.30px;height:169.19px;background:#8fb1da;"></div>
<div style="position:absolute;left:652.26px;top:683.12px;width:20.30px;height:54.38px;background:#3d80c1;"></div>
<div style="position:absolute;left:652.26px;top:728.65px;width:20.30px;height:8.85px;background:#2b5f9b;"></div>
<div style="position:absolute;left:698.48px;top:521.70px;width:20.30px;height:215.80px;background:#d6e4f3;"></div>
<div style="position:absolute;left:698.48px;top:522.99px;width:20.30px;height:214.51px;background:#b1cae7;"></div>
<div style="position:absolute;left:698.48px;top:564.86px;width:20.30px;height:172.64px;background:#8fb1da;"></div>
<div style="position:absolute;left:698.48px;top:680.31px;width:20.30px;height:57.19px;background:#3d80c1;"></div>
<div style="position:absolute;left:698.48px;top:726.93px;width:20.30px;height:10.57px;background:#2b5f9b;"></div>
<div style="position:absolute;left:744.70px;top:521.70px;width:20.30px;height:215.80px;background:#d6e4f3;"></div>
<div style="position:absolute;left:744.70px;top:523.64px;width:20.30px;height:213.86px;background:#b1cae7;"></div>
<div style="position:absolute;left:744.70px;top:560.98px;width:20.30px;height:176.52px;background:#8fb1da;"></div>
<div style="position:absolute;left:744.70px;top:674.49px;width:20.30px;height:63.01px;background:#3d80c1;"></div>
<div style="position:absolute;left:744.70px;top:723.04px;width:20.30px;height:14.46px;background:#2b5f9b;"></div>
<div style="position:absolute;left:790.92px;top:521.70px;width:20.30px;height:215.80px;background:#d6e4f3;"></div>
<div style="position:absolute;left:790.92px;top:522.99px;width:20.30px;height:214.51px;background:#b1cae7;"></div>
<div style="position:absolute;left:790.92px;top:557.95px;width:20.30px;height:179.55px;background:#8fb1da;"></div>
<div style="position:absolute;left:790.92px;top:667.37px;width:20.30px;height:70.13px;background:#3d80c1;"></div>
<div style="position:absolute;left:790.92px;top:719.37px;width:20.30px;height:18.13px;background:#2b5f9b;"></div>
<div style="position:absolute;left:837.14px;top:521.70px;width:20.30px;height:215.80px;background:#d6e4f3;"></div>
<div style="position:absolute;left:837.14px;top:522.78px;width:20.30px;height:214.72px;background:#b1cae7;"></div>
<div style="position:absolute;left:837.14px;top:554.50px;width:20.30px;height:183.00px;background:#8fb1da;"></div>
<div style="position:absolute;left:837.14px;top:659.38px;width:20.30px;height:78.12px;background:#3d80c1;"></div>
<div style="position:absolute;left:837.14px;top:716.78px;width:20.30px;height:20.72px;background:#2b5f9b;"></div>
<div style="position:absolute;left:883.36px;top:521.70px;width:20.30px;height:215.80px;background:#d6e4f3;"></div>
<div style="position:absolute;left:883.36px;top:522.78px;width:20.30px;height:214.72px;background:#b1cae7;"></div>
<div style="position:absolute;left:883.36px;top:551.26px;width:20.30px;height:186.24px;background:#8fb1da;"></div>
<div style="position:absolute;left:883.36px;top:656.58px;width:20.30px;height:80.92px;background:#3d80c1;"></div>
<div style="position:absolute;left:883.36px;top:714.84px;width:20.30px;height:22.66px;background:#2b5f9b;"></div>
<div style="position:absolute;left:929.58px;top:521.70px;width:20.30px;height:215.80px;background:#d6e4f3;"></div>
<div style="position:absolute;left:929.58px;top:527.31px;width:20.30px;height:210.19px;background:#b1cae7;"></div>
<div style="position:absolute;left:929.58px;top:548.03px;width:20.30px;height:189.47px;background:#8fb1da;"></div>
<div style="position:absolute;left:929.58px;top:647.30px;width:20.30px;height:90.20px;background:#3d80c1;"></div>
<div style="position:absolute;left:929.58px;top:711.82px;width:20.30px;height:25.68px;background:#2b5f9b;"></div>
<div style="position:absolute;left:975.80px;top:521.70px;width:20.30px;height:215.80px;background:#d6e4f3;"></div>
<div style="position:absolute;left:975.80px;top:522.99px;width:20.30px;height:214.51px;background:#b1cae7;"></div>
<div style="position:absolute;left:975.80px;top:545.87px;width:20.30px;height:191.63px;background:#8fb1da;"></div>
<div style="position:absolute;left:975.80px;top:640.61px;width:20.30px;height:96.89px;background:#3d80c1;"></div>
<div style="position:absolute;left:975.80px;top:710.52px;width:20.30px;height:26.98px;background:#2b5f9b;"></div>
<div style="position:absolute;left:1022.02px;top:521.70px;width:20.30px;height:215.80px;background:#d6e4f3;"></div>
<div style="position:absolute;left:1022.02px;top:522.78px;width:20.30px;height:214.72px;background:#b1cae7;"></div>
<div style="position:absolute;left:1022.02px;top:541.12px;width:20.30px;height:196.38px;background:#8fb1da;"></div>
<div style="position:absolute;left:1022.02px;top:634.56px;width:20.30px;height:102.94px;background:#3d80c1;"></div>
<div style="position:absolute;left:1022.02px;top:708.80px;width:20.30px;height:28.70px;background:#2b5f9b;"></div>
<div style="position:absolute;right:705.00px;text-align:right;top:734.58px;line-height:6.24px;white-space:nowrap;font-family:'Liberation Sans', sans-serif;font-size:5.2px;font-weight:normal;color:#9a9a9a;"><span style="display:inline-block;">0%</span></div>
<div style="position:absolute;right:705.00px;text-align:right;top:713.00px;line-height:6.24px;white-space:nowrap;font-family:'Liberation Sans', sans-serif;font-size:5.2px;font-weight:normal;color:#9a9a9a;"><span style="display:inline-block;">10%</span></div>
<div style="position:absolute;right:705.00px;text-align:right;top:691.42px;line-height:6.24px;white-space:nowrap;font-family:'Liberation Sans', sans-serif;font-size:5.2px;font-weight:normal;color:#9a9a9a;"><span style="display:inline-block;">20%</span></div>
<div style="position:absolute;right:705.00px;text-align:right;top:669.84px;line-height:6.24px;white-space:nowrap;font-family:'Liberation Sans', sans-serif;font-size:5.2px;font-weight:normal;color:#9a9a9a;"><span style="display:inline-block;">30%</span></div>
<div style="position:absolute;right:705.00px;text-align:right;top:648.26px;line-height:6.24px;white-space:nowrap;font-family:'Liberation Sans', sans-serif;font-size:5.2px;font-weight:normal;color:#9a9a9a;"><span style="display:inline-block;">40%</span></div>
<div style="position:absolute;right:705.00px;text-align:right;top:626.68px;line-height:6.24px;white-space:nowrap;font-family:'Liberation Sans', sans-serif;font-size:5.2px;font-weight:normal;color:#9a9a9a;"><span style="display:inline-block;">50%</span></div>
<div style="position:absolute;right:705.00px;text-align:right;top:605.10px;line-height:6.24px;white-space:nowrap;font-family:'Liberation Sans', sans-serif;font-size:5.2px;font-weight:normal;color:#9a9a9a;"><span style="display:inline-block;">60%</span></div>
<div style="position:absolute;right:705.00px;text-align:right;top:583.52px;line-height:6.24px;white-space:nowrap;font-family:'Liberation Sans', sans-serif;font-size:5.2px;font-weight:normal;color:#9a9a9a;"><span style="display:inline-block;">70%</span></div>
<div style="position:absolute;right:705.00px;text-align:right;top:561.94px;line-height:6.24px;white-space:nowrap;font-family:'Liberation Sans', sans-serif;font-size:5.2px;font-weight:normal;color:#9a9a9a;"><span style="display:inline-block;">80%</span></div>
<div style="position:absolute;right:705.00px;text-align:right;top:540.36px;line-height:6.24px;white-space:nowrap;font-family:'Liberation Sans', sans-serif;font-size:5.2px;font-weight:normal;color:#9a9a9a;"><span style="display:inline-block;">90%</span></div>
<div style="position:absolute;right:705.00px;text-align:right;top:518.78px;line-height:6.24px;white-space:nowrap;font-family:'Liberation Sans', sans-serif;font-size:5.2px;font-weight:normal;color:#9a9a9a;"><span style="display:inline-block;">100%</span></div>
<div style="position:absolute;left:503.75px;width:40px;text-align:center;top:743.70px;line-height:6.72px;white-space:nowrap;font-family:'Liberation Sans', sans-serif;font-size:5.6px;font-weight:bold;color:#787878;"><span style="display:inline-block;">2012</span></div>
<div style="position:absolute;left:549.97px;width:40px;text-align:center;top:743.70px;line-height:6.72px;white-space:nowrap;font-family:'Liberation Sans', sans-serif;font-size:5.6px;font-weight:bold;color:#787878;"><span style="display:inline-block;">2013</span></div>
<div style="position:absolute;left:596.19px;width:40px;text-align:center;top:743.70px;line-height:6.72px;white-space:nowrap;font-family:'Liberation Sans', sans-serif;font-size:5.6px;font-weight:bold;color:#787878;"><span style="display:inline-block;">2014</span></div>
<div style="position:absolute;left:642.41px;width:40px;text-align:center;top:743.70px;line-height:6.72px;white-space:nowrap;font-family:'Liberation Sans', sans-serif;font-size:5.6px;font-weight:bold;color:#787878;"><span style="display:inline-block;">2015</span></div>
<div style="position:absolute;left:688.63px;width:40px;text-align:center;top:743.70px;line-height:6.72px;white-space:nowrap;font-family:'Liberation Sans', sans-serif;font-size:5.6px;font-weight:bold;color:#787878;"><span style="display:inline-block;">2016</span></div>
<div style="position:absolute;left:734.85px;width:40px;text-align:center;top:743.70px;line-height:6.72px;white-space:nowrap;font-family:'Liberation Sans', sans-serif;font-size:5.6px;font-weight:bold;color:#787878;"><span style="display:inline-block;">2017</span></div>
<div style="position:absolute;left:781.07px;width:40px;text-align:center;top:743.70px;line-height:6.72px;white-space:nowrap;font-family:'Liberation Sans', sans-serif;font-size:5.6px;font-weight:bold;color:#787878;"><span style="display:inline-block;">2018</span></div>
<div style="position:absolute;left:827.29px;width:40px;text-align:center;top:743.70px;line-height:6.72px;white-space:nowrap;font-family:'Liberation Sans', sans-serif;font-size:5.6px;font-weight:bold;color:#787878;"><span style="display:inline-block;">2019</span></div>
<div style="position:absolute;left:873.51px;width:40px;text-align:center;top:743.70px;line-height:6.72px;white-space:nowrap;font-family:'Liberation Sans', sans-serif;font-size:5.6px;font-weight:bold;color:#787878;"><span style="display:inline-block;">2020</span></div>
<div style="position:absolute;left:919.73px;width:40px;text-align:center;top:743.70px;line-height:6.72px;white-space:nowrap;font-family:'Liberation Sans', sans-serif;font-size:5.6px;font-weight:bold;color:#787878;"><span style="display:inline-block;">2021</span></div>
<div style="position:absolute;left:965.95px;width:40px;text-align:center;top:743.70px;line-height:6.72px;white-space:nowrap;font-family:'Liberation Sans', sans-serif;font-size:5.6px;font-weight:bold;color:#787878;"><span style="display:inline-block;">2022</span></div>
<div style="position:absolute;left:1012.17px;width:40px;text-align:center;top:743.70px;line-height:6.72px;white-space:nowrap;font-family:'Liberation Sans', sans-serif;font-size:5.6px;font-weight:bold;color:#787878;"><span style="display:inline-block;">2023</span></div>
<div style="position:absolute;left:1067.00px;top:606.20px;width:5.60px;height:5.60px;background:#d8e5f2;"></div>
<div style="position:absolute;left:1072.80px;top:606.57px;line-height:6.0px;white-space:nowrap;font-family:'Liberation Sans', sans-serif;font-size:5px;font-weight:normal;color:#a0a0a0;"><span style="display:inline-block;">E</span></div>
<div style="position:absolute;left:1067.00px;top:618.70px;width:5.60px;height:5.60px;background:#bcd0ea;"></div>
<div style="position:absolute;left:1072.80px;top:619.07px;line-height:6.0px;white-space:nowrap;font-family:'Liberation Sans', sans-serif;font-size:5px;font-weight:normal;color:#a0a0a0;"><span style="display:inline-block;">D</span></div>
<div style="position:absolute;left:1067.00px;top:631.20px;width:5.60px;height:5.60px;background:#9dbbe0;"></div>
<div style="position:absolute;left:1072.80px;top:631.57px;line-height:6.0px;white-space:nowrap;font-family:'Liberation Sans', sans-serif;font-size:5px;font-weight:normal;color:#a0a0a0;"><span style="display:inline-block;">C</span></div>
<div style="position:absolute;left:1067.00px;top:643.70px;width:5.60px;height:5.60px;background:#3e7fbf;"></div>
<div style="position:absolute;left:1072.80px;top:644.07px;line-height:6.0px;white-space:nowrap;font-family:'Liberation Sans', sans-serif;font-size:5px;font-weight:normal;color:#a0a0a0;"><span style="display:inline-block;">B</span></div>
<div style="position:absolute;left:1067.00px;top:656.20px;width:5.60px;height:5.60px;background:#2a5e98;"></div>
<div style="position:absolute;left:1072.80px;top:656.57px;line-height:6.0px;white-space:nowrap;font-family:'Liberation Sans', sans-serif;font-size:5px;font-weight:normal;color:#a0a0a0;"><span style="display:inline-block;">A</span></div>
<div style="position:absolute;left:474.30px;top:772.80px;width:19.00px;height:20.00px;background:#1b1a1a;"></div>
<div style="position:absolute;left:474.30px;width:19px;text-align:center;top:775.37px;line-height:15.0px;white-space:nowrap;font-family:'Liberation Sans', sans-serif;font-size:12.5px;font-weight:bold;color:#ffffff;"><span style="display:inline-block;">14</span></div>
<div style="position:absolute;left:474.00px;top:791.80px;width:609.60px;height:256.40px;border:1.4px solid #6e6e6e;"></div>
<svg width="1200" height="1100" style="position:absolute;left:0;top:0"><line x1="509" y1="1025.00" x2="1040.5" y2="1025.00" stroke="#e2e2e2" stroke-width="1.1"/><line x1="509" y1="1002.90" x2="1040.5" y2="1002.90" stroke="#e2e2e2" stroke-width="1.1"/><line x1="509" y1="980.80" x2="1040.5" y2="980.80" stroke="#e2e2e2" stroke-width="1.1"/><line x1="509" y1="958.70" x2="1040.5" y2="958.70" stroke="#e2e2e2" stroke-width="1.1"/><line x1="509" y1="936.60" x2="1040.5" y2="936.60" stroke="#e2e2e2" stroke-width="1.1"/><line x1="509" y1="914.50" x2="1040.5" y2="914.50" stroke="#e2e2e2" stroke-width="1.1"/><line x1="509" y1="892.40" x2="1040.5" y2="892.40" stroke="#e2e2e2" stroke-width="1.1"/><line x1="509" y1="870.30" x2="1040.5" y2="870.30" stroke="#e2e2e2" stroke-width="1.1"/><line x1="509" y1="848.20" x2="1040.5" y2="848.20" stroke="#e2e2e2" stroke-width="1.1"/><line x1="509" y1="826.10" x2="1040.5" y2="826.10" stroke="#e2e2e2" stroke-width="1.1"/><line x1="509" y1="804.00" x2="1040.5" y2="804.00" stroke="#e2e2e2" stroke-width="1.1"/></svg>
<div style="position:absolute;left:526.10px;top:804.00px;width:14.40px;height:221.00px;background:#8fbb45;"></div>
<div style="position:absolute;left:526.10px;top:851.74px;width:14.40px;height:173.26px;background:#d8434a;"></div>
<div style="position:absolute;left:526.10px;top:1015.94px;width:14.40px;height:9.06px;background:#3f7fc0;"></div>
<div style="position:absolute;left:570.26px;top:804.00px;width:14.40px;height:221.00px;background:#8fbb45;"></div>
<div style="position:absolute;left:570.26px;top:860.58px;width:14.40px;height:164.42px;background:#d8434a;"></div>
<div style="position:absolute;left:570.26px;top:1015.94px;width:14.40px;height:9.06px;background:#3f7fc0;"></div>
<div style="position:absolute;left:614.42px;top:804.00px;width:14.40px;height:221.00px;background:#8fbb45;"></div>
<div style="position:absolute;left:614.42px;top:857.70px;width:14.40px;height:167.30px;background:#d8434a;"></div>
<div style="position:absolute;left:614.42px;top:1015.28px;width:14.40px;height:9.72px;background:#3f7fc0;"></div>
<div style="position:absolute;left:658.58px;top:804.00px;width:14.40px;height:221.00px;background:#8fbb45;"></div>
<div style="position:absolute;left:658.58px;top:848.42px;width:14.40px;height:176.58px;background:#d8434a;"></div>
<div style="position:absolute;left:658.58px;top:1015.94px;width:14.40px;height:9.06px;background:#3f7fc0;"></div>
<div style="position:absolute;left:702.74px;top:804.00px;width:14.40px;height:221.00px;background:#8fbb45;"></div>
<div style="position:absolute;left:702.74px;top:836.71px;width:14.40px;height:188.29px;background:#d8434a;"></div>
<div style="position:absolute;left:702.74px;top:1013.51px;width:14.40px;height:11.49px;background:#3f7fc0;"></div>
<div style="position:absolute;left:746.90px;top:804.00px;width:14.40px;height:221.00px;background:#8fbb45;"></div>
<div style="position:absolute;left:746.90px;top:830.30px;width:14.40px;height:194.70px;background:#d8434a;"></div>
<div style="position:absolute;left:746.90px;top:1013.95px;width:14.40px;height:11.05px;background:#3f7fc0;"></div>
<div style="position:absolute;left:791.06px;top:804.00px;width:14.40px;height:221.00px;background:#8fbb45;"></div>
<div style="position:absolute;left:791.06px;top:823.23px;width:14.40px;height:201.77px;background:#d8434a;"></div>
<div style="position:absolute;left:791.06px;top:1015.50px;width:14.40px;height:9.50px;background:#3f7fc0;"></div>
<div style="position:absolute;left:835.22px;top:804.00px;width:14.40px;height:221.00px;background:#8fbb45;"></div>
<div style="position:absolute;left:835.22px;top:819.91px;width:14.40px;height:205.09px;background:#d8434a;"></div>
<div style="position:absolute;left:835.22px;top:1015.50px;width:14.40px;height:9.50px;background:#3f7fc0;"></div>
<div style="position:absolute;left:879.38px;top:804.00px;width:14.40px;height:221.00px;background:#8fbb45;"></div>
<div style="position:absolute;left:879.38px;top:818.59px;width:14.40px;height:206.41px;background:#d8434a;"></div>
<div style="position:absolute;left:879.38px;top:1015.50px;width:14.40px;height:9.50px;background:#3f7fc0;"></div>
<div style="position:absolute;left:923.54px;top:804.00px;width:14.40px;height:221.00px;background:#8fbb45;"></div>
<div style="position:absolute;left:923.54px;top:815.49px;width:14.40px;height:209.51px;background:#d8434a;"></div>
<div style="position:absolute;left:923.54px;top:1011.96px;width:14.40px;height:13.04px;background:#3f7fc0;"></div>
<div style="position:absolute;left:967.70px;top:804.00px;width:14.40px;height:221.00px;background:#8fbb45;"></div>
<div style="position:absolute;left:967.70px;top:811.07px;width:14.40px;height:213.93px;background:#d8434a;"></div>
<div style="position:absolute;left:967.70px;top:1012.62px;width:14.40px;height:12.38px;background:#3f7fc0;"></div>
<div style="position:absolute;left:1011.86px;top:804.00px;width:14.40px;height:221.00px;background:#8fbb45;"></div>
<div style="position:absolute;left:1011.86px;top:809.52px;width:14.40px;height:215.48px;background:#d8434a;"></div>
<div style="position:absolute;left:1011.86px;top:1010.63px;width:14.40px;height:14.37px;background:#3f7fc0;"></div>
<div style="position:absolute;right:697.50px;text-align:right;top:1019.30px;line-height:11.28px;white-space:nowrap;font-family:'Liberation Sans', sans-serif;font-size:9.4px;font-weight:normal;color:#5f5f5f;letter-spacing:-0.2px;"><span style="display:inline-block;">0%</span></div>
<div style="position:absolute;right:697.50px;text-align:right;top:997.20px;line-height:11.28px;white-space:nowrap;font-family:'Liberation Sans', sans-serif;font-size:9.4px;font-weight:normal;color:#5f5f5f;letter-spacing:-0.2px;"><span style="display:inline-block;">10%</span></div>
<div style="position:absolute;right:697.50px;text-align:right;top:975.10px;line-height:11.28px;white-space:nowrap;font-family:'Liberation Sans', sans-serif;font-size:9.4px;font-weight:normal;color:#5f5f5f;letter-spacing:-0.2px;"><span style="display:inline-block;">20%</span></div>
<div style="position:absolute;right:697.50px;text-align:right;top:953.00px;line-height:11.28px;white-space:nowrap;font-family:'Liberation Sans', sans-serif;font-size:9.4px;font-weight:normal;color:#5f5f5f;letter-spacing:-0.2px;"><span style="display:inline-block;">30%</span></div>
<div style="position:absolute;right:697.50px;text-align:right;top:930.90px;line-height:11.28px;white-space:nowrap;font-family:'Liberation Sans', sans-serif;font-size:9.4px;font-weight:normal;color:#5f5f5f;letter-spacing:-0.2px;"><span style="display:inline-block;">40%</span></div>
<div style="position:absolute;right:697.50px;text-align:right;top:908.80px;line-height:11.28px;white-space:nowrap;font-family:'Liberation Sans', sans-serif;font-size:9.4px;font-weight:normal;color:#5f5f5f;letter-spacing:-0.2px;"><span style="display:inline-block;">50%</span></div>
<div style="position:absolute;right:697.50px;text-align:right;top:886.70px;line-height:11.28px;white-space:nowrap;font-family:'Liberation Sans', sans-serif;font-size:9.4px;font-weight:normal;color:#5f5f5f;letter-spacing:-0.2px;"><span style="display:inline-block;">60%</span></div>
<div style="position:absolute;right:697.50px;text-align:right;top:864.60px;line-height:11.28px;white-space:nowrap;font-family:'Liberation Sans', sans-serif;font-size:9.4px;font-weight:normal;color:#5f5f5f;letter-spacing:-0.2px;"><span style="display:inline-block;">70%</span></div>
<div style="position:absolute;right:697.50px;text-align:right;top:842.50px;line-height:11.28px;white-space:nowrap;font-family:'Liberation Sans', sans-serif;font-size:9.4px;font-weight:normal;color:#5f5f5f;letter-spacing:-0.2px;"><span style="display:inline-block;">80%</span></div>
<div style="position:absolute;right:697.50px;text-align:right;top:820.40px;line-height:11.28px;white-space:nowrap;font-family:'Liberation Sans', sans-serif;font-size:9.4px;font-weight:normal;color:#5f5f5f;letter-spacing:-0.2px;"><span style="display:inline-block;">90%</span></div>
<div style="position:absolute;right:697.50px;text-align:right;top:798.30px;line-height:11.28px;white-space:nowrap;font-family:'Liberation Sans', sans-serif;font-size:9.4px;font-weight:normal;color:#5f5f5f;letter-spacing:-0.2px;"><span style="display:inline-block;">100%</span></div>
<div style="position:absolute;left:513.30px;width:40px;text-align:center;top:1032.30px;line-height:11.28px;white-space:nowrap;font-family:'Liberation Sans', sans-serif;font-size:9.4px;font-weight:normal;color:#5a5a5a;letter-spacing:-0.1px;"><span style="display:inline-block;">2012</span></div>
<div style="position:absolute;left:557.46px;width:40px;text-align:center;top:1032.30px;line-height:11.28px;white-space:nowrap;font-family:'Liberation Sans', sans-serif;font-size:9.4px;font-weight:normal;color:#5a5a5a;letter-spacing:-0.1px;"><span style="display:inline-block;">2013</span></div>
<div style="position:absolute;left:601.62px;width:40px;text-align:center;top:1032.30px;line-height:11.28px;white-space:nowrap;font-family:'Liberation Sans', sans-serif;font-size:9.4px;font-weight:normal;color:#5a5a5a;letter-spacing:-0.1px;"><span style="display:inline-block;">2014</span></div>
<div style="position:absolute;left:645.78px;width:40px;text-align:center;top:1032.30px;line-height:11.28px;white-space:nowrap;font-family:'Liberation Sans', sans-serif;font-size:9.4px;font-weight:normal;color:#5a5a5a;letter-spacing:-0.1px;"><span style="display:inline-block;">2015</span></div>
<div style="position:absolute;left:689.94px;width:40px;text-align:center;top:1032.30px;line-height:11.28px;white-space:nowrap;font-family:'Liberation Sans', sans-serif;font-size:9.4px;font-weight:normal;color:#5a5a5a;letter-spacing:-0.1px;"><span style="display:inline-block;">2016</span></div>
<div style="position:absolute;left:734.10px;width:40px;text-align:center;top:1032.30px;line-height:11.28px;white-space:nowrap;font-family:'Liberation Sans', sans-serif;font-size:9.4px;font-weight:normal;color:#5a5a5a;letter-spacing:-0.1px;"><span style="display:inline-block;">2017</span></div>
<div style="position:absolute;left:778.26px;width:40px;text-align:center;top:1032.30px;line-height:11.28px;white-space:nowrap;font-family:'Liberation Sans', sans-serif;font-size:9.4px;font-weight:normal;color:#5a5a5a;letter-spacing:-0.1px;"><span style="display:inline-block;">2018</span></div>
<div style="position:absolute;left:822.42px;width:40px;text-align:center;top:1032.30px;line-height:11.28px;white-space:nowrap;font-family:'Liberation Sans', sans-serif;font-size:9.4px;font-weight:normal;color:#5a5a5a;letter-spacing:-0.1px;"><span style="display:inline-block;">2019</span></div>
<div style="position:absolute;left:866.58px;width:40px;text-align:center;top:1032.30px;line-height:11.28px;white-space:nowrap;font-family:'Liberation Sans', sans-serif;font-size:9.4px;font-weight:normal;color:#5a5a5a;letter-spacing:-0.1px;"><span style="display:inline-block;">2020</span></div>
<div style="position:absolute;left:910.74px;width:40px;text-align:center;top:1032.30px;line-height:11.28px;white-space:nowrap;font-family:'Liberation Sans', sans-serif;font-size:9.4px;font-weight:normal;color:#5a5a5a;letter-spacing:-0.1px;"><span style="display:inline-block;">2021</span></div>
<div style="position:absolute;left:954.90px;width:40px;text-align:center;top:1032.30px;line-height:11.28px;white-space:nowrap;font-family:'Liberation Sans', sans-serif;font-size:9.4px;font-weight:normal;color:#5a5a5a;letter-spacing:-0.1px;"><span style="display:inline-block;">2022</span></div>
<div style="position:absolute;left:999.06px;width:40px;text-align:center;top:1032.30px;line-height:11.28px;white-space:nowrap;font-family:'Liberation Sans', sans-serif;font-size:9.4px;font-weight:normal;color:#5a5a5a;letter-spacing:-0.1px;"><span style="display:inline-block;">2023</span></div>
<div style="position:absolute;left:1058.20px;top:899.40px;width:5.20px;height:5.20px;background:#8fbb45;"></div>
<div style="position:absolute;left:1064.30px;top:896.69px;line-height:11.04px;white-space:nowrap;font-family:'Liberation Sans', sans-serif;font-size:9.2px;font-weight:normal;color:#6a6a6a;"><span style="display:inline-block;">C</span></div>
<div style="position:absolute;left:1058.20px;top:918.15px;width:5.20px;height:5.20px;background:#d8434a;"></div>
<div style="position:absolute;left:1064.30px;top:915.44px;line-height:11.04px;white-space:nowrap;font-family:'Liberation Sans', sans-serif;font-size:9.2px;font-weight:normal;color:#6a6a6a;"><span style="display:inline-block;">B</span></div>
<div style="position:absolute;left:1058.20px;top:936.90px;width:5.20px;height:5.20px;background:#3f7fc0;"></div>
<div style="position:absolute;left:1064.30px;top:934.19px;line-height:11.04px;white-space:nowrap;font-family:'Liberation Sans', sans-serif;font-size:9.2px;font-weight:normal;color:#6a6a6a;"><span style="display:inline-block;">A</span></div>
<div style="position:absolute;left:514.20px;top:1063.50px;width:19.00px;height:20.00px;background:#1b1a1a;"></div>
<div style="position:absolute;left:514.20px;width:19px;text-align:center;top:1066.07px;line-height:15.0px;white-space:nowrap;font-family:'Liberation Sans', sans-serif;font-size:12.5px;font-weight:bold;color:#ffffff;"><span style="display:inline-block;">15</span></div>
<div style="position:absolute;left:514.00px;top:1082.80px;width:341.00px;height:314.40px;border:1.4px solid #6b6b6b;"></div>
<div style="position:absolute;left:621.30px;width:120px;text-align:center;top:1089.91px;line-height:11.52px;white-space:nowrap;font-family:'Liberation Sans', sans-serif;font-size:9.6px;font-weight:normal;color:#6a6a6a;"><span style="display:inline-block;transform:scaleX(0.95);transform-origin:center 0;">2023 vs 2017</span></div>
<svg width="1200" height="1696" style="position:absolute;left:0;top:0"><polygon fill="#73993a" stroke="#73993a" stroke-width="0.7" points="566.1,1112.8 623.5,1170.0 566.1,1170.0"/><polygon fill="#8bb648" stroke="#8bb648" stroke-width="0.7" points="566.1,1112.8 623.5,1112.8 623.5,1170.0"/><polygon fill="#759e38" stroke="#759e38" stroke-width="0.7" points="623.5,1112.8 680.8,1170.0 623.5,1170.0"/><polygon fill="#9ac455" stroke="#9ac455" stroke-width="0.7" points="623.5,1112.8 680.8,1112.8 680.8,1170.0"/><polygon fill="#94bf50" stroke="#94bf50" stroke-width="0.7" points="680.8,1112.8 737.6,1112.8 680.8,1170.0"/><polygon fill="#86b144" stroke="#86b144" stroke-width="0.7" points="737.6,1112.8 737.6,1170.0 680.8,1170.0"/><polygon fill="#9cc657" stroke="#9cc657" stroke-width="0.7" points="737.6,1112.8 795.8,1112.8 795.8,1170.0"/><polygon fill="#557a2b" stroke="#557a2b" stroke-width="0.7" points="737.6,1112.8 795.8,1170.0 737.6,1170.0"/><polygon fill="#6b8e34" stroke="#6b8e34" stroke-width="0.7" points="566.1,1170.0 623.5,1170.0 623.5,1227.1 566.1,1227.1"/><polygon fill="#5a802b" stroke="#5a802b" stroke-width="0.7" points="623.5,1170.0 680.8,1170.0 680.8,1227.1 623.5,1227.1"/><polygon fill="#709c37" stroke="#709c37" stroke-width="0.7" points="680.8,1170.0 737.6,1170.0 737.6,1227.1 680.8,1227.1"/><polygon fill="#5f8630" stroke="#5f8630" stroke-width="0.7" points="737.6,1170.0 795.8,1170.0 795.8,1227.1 737.6,1227.1"/><polygon fill="#4d6c29" stroke="#4d6c29" stroke-width="0.7" points="737.6,1170.0 795.8,1227.1 737.6,1227.1"/><polygon fill="#739d38" stroke="#739d38" stroke-width="0.7" points="566.1,1227.1 680.8,1227.1 680.8,1284.7 566.1,1284.7"/><polygon fill="#6a9435" stroke="#6a9435" stroke-width="0.7" points="680.8,1227.1 737.6,1227.1 737.6,1284.7 680.8,1284.7"/><polygon fill="#557a2c" stroke="#557a2c" stroke-width="0.7" points="737.6,1227.1 795.8,1227.1 795.8,1284.7 737.6,1284.7"/><polygon fill="#4a6a26" stroke="#4a6a26" stroke-width="0.7" points="778.4,1227.1 795.8,1227.1 795.8,1235.7 756.0,1268.4"/><polygon fill="#76a23a" stroke="#76a23a" stroke-width="0.7" points="566.1,1284.7 795.8,1284.7 795.8,1341.9 566.1,1341.9"/><polygon fill="#c63b44" stroke="#c63b44" stroke-width="0.7" points="737.6,1135.7 737.6,1170.0 727.4,1166.3"/><polygon fill="#8f2a31" stroke="#8f2a31" stroke-width="0.7" points="737.6,1135.7 752.9,1164.2 753.9,1174.5 751.9,1181.2 745.6,1181.2 737.6,1170.0"/><polygon fill="#a9333a" stroke="#a9333a" stroke-width="0.7" points="727.4,1166.3 737.6,1170.0 682.5,1227.1 702.9,1194.9"/><polygon fill="#9c2d35" stroke="#9c2d35" stroke-width="0.7" points="737.6,1170.0 737.6,1227.1 682.5,1227.1"/><polygon fill="#5e1c20" stroke="#5e1c20" stroke-width="0.7" points="737.6,1170.0 778.4,1227.1 737.6,1227.1"/><polygon fill="#7a2228" stroke="#7a2228" stroke-width="0.7" points="737.6,1227.1 778.4,1227.1 756.0,1268.4 784.6,1284.7 737.6,1284.7"/><polygon fill="#e54e54" stroke="#e54e54" stroke-width="0.7" points="682.5,1227.1 723.3,1227.1 737.6,1245.9 737.6,1284.7"/><polygon fill="#731f25" stroke="#731f25" stroke-width="0.7" points="682.5,1227.1 737.6,1284.7 680.8,1284.7 680.8,1229.6"/><polygon fill="#a53139" stroke="#a53139" stroke-width="0.7" points="575.3,1284.7 650.8,1257.1 680.8,1229.6 680.8,1284.7"/><polygon fill="#b9363d" stroke="#b9363d" stroke-width="0.7" points="575.3,1284.7 623.3,1284.7 680.8,1341.9 621.2,1341.9"/><polygon fill="#ee7b81" stroke="#ee7b81" stroke-width="0.7" points="623.3,1284.7 680.8,1284.7 680.8,1341.9"/><polygon fill="#bf3a41" stroke="#bf3a41" stroke-width="0.7" points="680.8,1284.7 737.6,1284.7 680.8,1341.9"/><polygon fill="#c9464b" stroke="#c9464b" stroke-width="0.7" points="680.8,1341.9 737.6,1284.7 739.6,1341.9"/><polygon fill="#b73a40" stroke="#b73a40" stroke-width="0.7" points="737.6,1284.7 784.6,1284.7 739.6,1341.9"/><polygon fill="#c0383f" stroke="#c0383f" stroke-width="0.7" points="784.6,1341.9 795.8,1337.8 795.8,1341.9"/><polygon fill="#2c6aa8" stroke="#2c6aa8" stroke-width="0.7" points="723.3,1227.1 737.6,1210.2 748.8,1227.1 737.6,1245.9"/><polygon fill="#4a90d0" stroke="#4a90d0" stroke-width="0.7" points="723.3,1227.1 737.6,1227.1 737.6,1245.9"/><polygon fill="#1e4f86" stroke="#1e4f86" stroke-width="0.7" points="737.6,1210.2 748.8,1227.1 737.6,1227.1"/></svg>
<div style="position:absolute;left:800.80px;top:1109.69px;line-height:6.48px;white-space:nowrap;font-family:'Liberation Sans', sans-serif;font-size:5.4px;font-weight:normal;color:#8a8a8a;"><span style="display:inline-block;">A</span></div>
<div style="position:absolute;left:556.10px;width:20px;text-align:center;top:1347.39px;line-height:6.48px;white-space:nowrap;font-family:'Liberation Sans', sans-serif;font-size:5.4px;font-weight:normal;color:#8a8a8a;"><span style="display:inline-block;">A</span></div>
<div style="position:absolute;left:800.80px;top:1166.94px;line-height:6.48px;white-space:nowrap;font-family:'Liberation Sans', sans-serif;font-size:5.4px;font-weight:normal;color:#8a8a8a;"><span style="display:inline-block;">B</span></div>
<div style="position:absolute;left:613.52px;width:20px;text-align:center;top:1347.39px;line-height:6.48px;white-space:nowrap;font-family:'Liberation Sans', sans-serif;font-size:5.4px;font-weight:normal;color:#8a8a8a;"><span style="display:inline-block;">B</span></div>
<div style="position:absolute;left:800.80px;top:1224.19px;line-height:6.48px;white-space:nowrap;font-family:'Liberation Sans', sans-serif;font-size:5.4px;font-weight:normal;color:#8a8a8a;"><span style="display:inline-block;">C</span></div>
<div style="position:absolute;left:670.94px;width:20px;text-align:center;top:1347.39px;line-height:6.48px;white-space:nowrap;font-family:'Liberation Sans', sans-serif;font-size:5.4px;font-weight:normal;color:#8a8a8a;"><span style="display:inline-block;">C</span></div>
<div style="position:absolute;left:800.80px;top:1281.44px;line-height:6.48px;white-space:nowrap;font-family:'Liberation Sans', sans-serif;font-size:5.4px;font-weight:normal;color:#8a8a8a;"><span style="display:inline-block;">D</span></div>
<div style="position:absolute;left:728.36px;width:20px;text-align:center;top:1347.39px;line-height:6.48px;white-space:nowrap;font-family:'Liberation Sans', sans-serif;font-size:5.4px;font-weight:normal;color:#8a8a8a;"><span style="display:inline-block;">D</span></div>
<div style="position:absolute;left:800.80px;top:1338.69px;line-height:6.48px;white-space:nowrap;font-family:'Liberation Sans', sans-serif;font-size:5.4px;font-weight:normal;color:#8a8a8a;"><span style="display:inline-block;">E</span></div>
<div style="position:absolute;left:785.78px;width:20px;text-align:center;top:1347.39px;line-height:6.48px;white-space:nowrap;font-family:'Liberation Sans', sans-serif;font-size:5.4px;font-weight:normal;color:#8a8a8a;"><span style="display:inline-block;">E</span></div>
<div style="position:absolute;left:816.00px;top:1106.30px;width:35.50px;height:16.30px;background:#3b7dc4;border:1px solid #2c5f96;box-sizing:border-box;"></div>
<div style="position:absolute;left:815.70px;width:36px;text-align:center;top:1109.31px;line-height:11.4px;white-space:nowrap;font-family:'Liberation Sans', sans-serif;font-size:9.5px;font-weight:normal;color:#ffffff;"><span style="display:inline-block;">WG</span></div>
<div style="position:absolute;left:518.50px;top:1338.00px;width:34.80px;height:15.50px;background:#3b7dc4;border:1px solid #2c5f96;box-sizing:border-box;"></div>
<div style="position:absolute;left:517.90px;width:36px;text-align:center;top:1340.51px;line-height:11.4px;white-space:nowrap;font-family:'Liberation Sans', sans-serif;font-size:9.5px;font-weight:normal;color:#ffffff;"><span style="display:inline-block;">RR</span></div>
<div style="position:absolute;left:598.90px;top:1378.40px;width:3.20px;height:3.20px;background:#3b6fb0;"></div>
<div style="position:absolute;left:603.80px;top:1376.54px;line-height:7.68px;white-space:nowrap;font-family:'Liberation Sans', sans-serif;font-size:6.4px;font-weight:normal;color:#6a6a6a;-webkit-text-stroke:0.15px #6a6a6a;"><span style="display:inline-block;transform:scaleX(1.0913);transform-origin:left 0;">-10,00%–5,00%</span></div>
<div style="position:absolute;left:662.90px;top:1378.40px;width:3.20px;height:3.20px;background:#c8393f;"></div>
<div style="position:absolute;left:667.40px;top:1376.54px;line-height:7.68px;white-space:nowrap;font-family:'Liberation Sans', sans-serif;font-size:6.4px;font-weight:normal;color:#6a6a6a;-webkit-text-stroke:0.15px #6a6a6a;"><span style="display:inline-block;transform:scaleX(1.0948);transform-origin:left 0;">-5,00%-0,00%</span></div>
<div style="position:absolute;left:722.50px;top:1378.40px;width:3.20px;height:3.20px;background:#8cb848;"></div>
<div style="position:absolute;left:727.20px;top:1376.54px;line-height:7.68px;white-space:nowrap;font-family:'Liberation Sans', sans-serif;font-size:6.4px;font-weight:normal;color:#6a6a6a;-webkit-text-stroke:0.15px #6a6a6a;"><span style="display:inline-block;transform:scaleX(1.0774);transform-origin:left 0;">0,00%-5,00%</span></div>
<div style="position:absolute;left:69.30px;top:1079.42px;line-height:21.6px;white-space:nowrap;font-family:'Liberation Serif', serif;font-size:18.0px;font-weight:normal;color:#231f20;"><span style="display:inline-block;transform:scaleX(0.995);transform-origin:left 0;">C for wet grip, but we can observe a</span></div>
<div style="position:absolute;left:69.30px;top:1101.65px;line-height:21.6px;white-space:nowrap;font-family:'Liberation Serif', serif;font-size:18.0px;font-weight:normal;color:#231f20;"><span style="display:inline-block;transform:scaleX(1.0104);transform-origin:left 0;">trend of increasing numbers of B and</span></div>
<div style="position:absolute;left:69.30px;top:1123.88px;line-height:21.6px;white-space:nowrap;font-family:'Liberation Serif', serif;font-size:18.0px;font-weight:normal;color:#231f20;"><span style="display:inline-block;transform:scaleX(0.9984);transform-origin:left 0;">C values for rolling resistance and A</span></div>
<div style="position:absolute;left:69.30px;top:1146.12px;line-height:21.6px;white-space:nowrap;font-family:'Liberation Serif', serif;font-size:18.0px;font-weight:normal;color:#231f20;"><span style="display:inline-block;transform:scaleX(0.984);transform-origin:left 0;">and B values for wet grip (Table 13).</span></div>
<div style="position:absolute;left:92.30px;top:1168.35px;line-height:21.6px;white-space:nowrap;font-family:'Liberation Serif', serif;font-size:18.0px;font-weight:normal;color:#231f20;"><span style="display:inline-block;transform:scaleX(0.9846);transform-origin:left 0;">The full analysis is even clearer:</span></div>
<div style="position:absolute;left:69.30px;top:1190.58px;line-height:21.6px;white-space:nowrap;font-family:'Liberation Serif', serif;font-size:18.0px;font-weight:normal;color:#231f20;"><span style="display:inline-block;transform:scaleX(0.9986);transform-origin:left 0;">van tires valued at B-B or better</span></div>
<div style="position:absolute;left:69.30px;top:1212.80px;line-height:21.6px;white-space:nowrap;font-family:'Liberation Serif', serif;font-size:18.0px;font-weight:normal;color:#231f20;"><span style="display:inline-block;transform:scaleX(1.0016);transform-origin:left 0;">account for 1.6% of the market in</span></div>
<div style="position:absolute;left:69.30px;top:1235.03px;line-height:21.6px;white-space:nowrap;font-family:'Liberation Serif', serif;font-size:18.0px;font-weight:normal;color:#231f20;"><span style="display:inline-block;transform:scaleX(0.9821);transform-origin:left 0;">2017 and 3.3% in 2023 (Table 14).</span></div>
<div style="position:absolute;left:92.30px;top:1257.26px;line-height:21.6px;white-space:nowrap;font-family:'Liberation Serif', serif;font-size:18.0px;font-weight:normal;color:#231f20;"><span style="display:inline-block;transform:scaleX(1.0027);transform-origin:left 0;">Another way to visualize the</span></div>
<div style="position:absolute;left:69.30px;top:1279.49px;line-height:21.6px;white-space:nowrap;font-family:'Liberation Serif', serif;font-size:18.0px;font-weight:normal;color:#231f20;"><span style="display:inline-block;transform:scaleX(1.0195);transform-origin:left 0;">market transformation is shown</span></div>
<div style="position:absolute;left:69.30px;top:1301.72px;line-height:21.6px;white-space:nowrap;font-family:'Liberation Serif', serif;font-size:18.0px;font-weight:normal;color:#231f20;"><span style="display:inline-block;transform:scaleX(1.0164);transform-origin:left 0;">in Figure 11. In the period shown,</span></div>
<div style="position:absolute;left:69.30px;top:1323.95px;line-height:21.6px;white-space:nowrap;font-family:'Liberation Serif', serif;font-size:18.0px;font-weight:normal;color:#231f20;"><span style="display:inline-block;transform:scaleX(1.0027);transform-origin:left 0;">rolling resistance and wet grip have</span></div>
<div style="position:absolute;left:69.30px;top:1346.18px;line-height:21.6px;white-space:nowrap;font-family:'Liberation Serif', serif;font-size:18.0px;font-weight:normal;color:#231f20;"><span style="display:inline-block;transform:scaleX(1.0224);transform-origin:left 0;">both shown improvement.</span></div>
<div style="position:absolute;left:92.30px;top:1368.41px;line-height:21.6px;white-space:nowrap;font-family:'Liberation Serif', serif;font-size:18.0px;font-weight:normal;color:#231f20;"><span style="display:inline-block;transform:scaleX(1.0017);transform-origin:left 0;">Looking at the market values</span></div>
<div style="position:absolute;left:69.30px;top:1390.64px;line-height:21.6px;white-space:nowrap;font-family:'Liberation Serif', serif;font-size:18.0px;font-weight:normal;color:#231f20;"><span style="display:inline-block;transform:scaleX(1.0071);transform-origin:left 0;">per brands tier in 2023 (Table 15),</span></div>
<div style="position:absolute;left:69.30px;top:1412.88px;line-height:21.6px;white-space:nowrap;font-family:'Liberation Serif', serif;font-size:18.0px;font-weight:normal;color:#231f20;"><span style="display:inline-block;transform:scaleX(1.0178);transform-origin:left 0;">premium brands have improved,</span></div>
<div style="position:absolute;left:69.30px;top:1435.11px;line-height:21.6px;white-space:nowrap;font-family:'Liberation Serif', serif;font-size:18.0px;font-weight:normal;color:#231f20;"><span style="display:inline-block;transform:scaleX(0.989);transform-origin:left 0;">with 21.9% of tires having label data</span></div>
<div style="position:absolute;left:69.30px;top:1457.34px;line-height:21.6px;white-space:nowrap;font-family:'Liberation Serif', serif;font-size:18.0px;font-weight:normal;color:#231f20;"><span style="display:inline-block;transform:scaleX(1.0103);transform-origin:left 0;">for A and B values. Medium brands</span></div>
<div style="position:absolute;left:69.30px;top:1479.57px;line-height:21.6px;white-space:nowrap;font-family:'Liberation Serif', serif;font-size:18.0px;font-weight:normal;color:#231f20;"><span style="display:inline-block;transform:scaleX(1.0002);transform-origin:left 0;">have 1.7% and budget brands show</span></div>
<div style="position:absolute;left:69.30px;top:1501.80px;line-height:21.6px;white-space:nowrap;font-family:'Liberation Serif', serif;font-size:18.0px;font-weight:normal;color:#231f20;"><span style="display:inline-block;transform:scaleX(0.9754);transform-origin:left 0;">less than 0.6%.</span></div>
<div style="position:absolute;left:365.40px;top:1082.90px;width:1.50px;height:499.50px;background:#9a9a9a;"></div>
<div style="position:absolute;left:490.20px;top:1082.90px;width:1.50px;height:499.50px;background:#9a9a9a;"></div>
<div style="position:absolute;left:371.90px;top:1081.40px;line-height:15.6px;white-space:nowrap;font-family:'Liberation Sans', sans-serif;font-size:13.0px;font-weight:normal;color:#2e2e2e;"><span style="display:inline-block;transform:scaleX(0.7885);transform-origin:left 0;"><b>Figure 12:</b> Evolution of</span></div>
<div style="position:absolute;left:371.90px;top:1097.35px;line-height:15.6px;white-space:nowrap;font-family:'Liberation Sans', sans-serif;font-size:13.0px;font-weight:normal;color:#2e2e2e;"><span style="display:inline-block;transform:scaleX(0.8161);transform-origin:left 0;">rolling resistance in the</span></div>
<div style="position:absolute;left:371.90px;top:1113.30px;line-height:15.6px;white-space:nowrap;font-family:'Liberation Sans', sans-serif;font-size:13.0px;font-weight:normal;color:#2e2e2e;"><span style="display:inline-block;transform:scaleX(0.7847);transform-origin:left 0;">C2 segment</span></div>
<div style="position:absolute;left:371.90px;top:1135.00px;line-height:15.6px;white-space:nowrap;font-family:'Liberation Sans', sans-serif;font-size:13.0px;font-weight:normal;color:#2e2e2e;"><span style="display:inline-block;transform:scaleX(0.7885);transform-origin:left 0;"><b>Figure 13:</b> Evolution of</span></div>
<div style="position:absolute;left:371.90px;top:1150.95px;line-height:15.6px;white-space:nowrap;font-family:'Liberation Sans', sans-serif;font-size:13.0px;font-weight:normal;color:#2e2e2e;"><span style="display:inline-block;transform:scaleX(0.8222);transform-origin:left 0;">wet grip performance</span></div>
<div style="position:absolute;left:371.90px;top:1166.90px;line-height:15.6px;white-space:nowrap;font-family:'Liberation Sans', sans-serif;font-size:13.0px;font-weight:normal;color:#2e2e2e;"><span style="display:inline-block;transform:scaleX(0.7971);transform-origin:left 0;">in the C2 segment</span></div>
<div style="position:absolute;left:371.90px;top:1188.60px;line-height:15.6px;white-space:nowrap;font-family:'Liberation Sans', sans-serif;font-size:13.0px;font-weight:normal;color:#2e2e2e;"><span style="display:inline-block;transform:scaleX(0.7885);transform-origin:left 0;"><b>Figure 14:</b> Evolution of</span></div>
<div style="position:absolute;left:371.90px;top:1204.55px;line-height:15.6px;white-space:nowrap;font-family:'Liberation Sans', sans-serif;font-size:13.0px;font-weight:normal;color:#2e2e2e;"><span style="display:inline-block;transform:scaleX(0.7932);transform-origin:left 0;">noise in the C2 segment</span></div>
<div style="position:absolute;left:371.90px;top:1226.25px;line-height:15.6px;white-space:nowrap;font-family:'Liberation Sans', sans-serif;font-size:13.0px;font-weight:normal;color:#2e2e2e;"><span style="display:inline-block;transform:scaleX(0.7666);transform-origin:left 0;"><b>Figure 15:</b> A visualization</span></div>
<div style="position:absolute;left:371.90px;top:1242.20px;line-height:15.6px;white-space:nowrap;font-family:'Liberation Sans', sans-serif;font-size:13.0px;font-weight:normal;color:#2e2e2e;"><span style="display:inline-block;transform:scaleX(0.7836);transform-origin:left 0;">of the C3 market</span></div>
<div style="position:absolute;left:371.90px;top:1258.15px;line-height:15.6px;white-space:nowrap;font-family:'Liberation Sans', sans-serif;font-size:13.0px;font-weight:normal;color:#2e2e2e;"><span style="display:inline-block;transform:scaleX(0.8186);transform-origin:left 0;">transformation between</span></div>
<div style="position:absolute;left:371.90px;top:1274.10px;line-height:15.6px;white-space:nowrap;font-family:'Liberation Sans', sans-serif;font-size:13.0px;font-weight:normal;color:#2e2e2e;"><span style="display:inline-block;transform:scaleX(0.755);transform-origin:left 0;">2017 and 2023</span></div>
<div style="position:absolute;left:881.00px;top:1080.09px;line-height:19.92px;white-space:nowrap;font-family:'Liberation Sans', sans-serif;font-size:16.6px;font-weight:bold;color:#1d1d1b;-webkit-text-stroke:0.45px #1d1d1b;"><span style="display:inline-block;transform:scaleX(1.1472);transform-origin:left 0;">Evolution of wet grip</span></div>
<div style="position:absolute;left:881.00px;top:1101.12px;line-height:21.6px;white-space:nowrap;font-family:'Liberation Serif', serif;font-size:18.0px;font-weight:normal;color:#231f20;"><span style="display:inline-block;transform:scaleX(1.0093);transform-origin:left 0;">Wet grip performance has</span></div>
<div style="position:absolute;left:881.00px;top:1123.35px;line-height:21.6px;white-space:nowrap;font-family:'Liberation Serif', serif;font-size:18.0px;font-weight:normal;color:#231f20;"><span style="display:inline-block;transform:scaleX(0.9925);transform-origin:left 0;">continued to increase during</span></div>
<div style="position:absolute;left:881.00px;top:1145.57px;line-height:21.6px;white-space:nowrap;font-family:'Liberation Serif', serif;font-size:18.0px;font-weight:normal;color:#231f20;"><span style="display:inline-block;transform:scaleX(1.0113);transform-origin:left 0;">the period, with the share</span></div>
<div style="position:absolute;left:881.00px;top:1167.79px;line-height:21.6px;white-space:nowrap;font-family:'Liberation Serif', serif;font-size:18.0px;font-weight:normal;color:#231f20;"><span style="display:inline-block;transform:scaleX(0.991);transform-origin:left 0;">of A and B values reaching</span></div>
<div style="position:absolute;left:881.00px;top:1190.01px;line-height:21.6px;white-space:nowrap;font-family:'Liberation Serif', serif;font-size:18.0px;font-weight:normal;color:#231f20;"><span style="display:inline-block;transform:scaleX(0.9798);transform-origin:left 0;">almost 50% in 2023. The</span></div>
<div style="position:absolute;left:881.00px;top:1212.22px;line-height:21.6px;white-space:nowrap;font-family:'Liberation Serif', serif;font-size:18.0px;font-weight:normal;color:#231f20;"><span style="display:inline-block;transform:scaleX(0.9893);transform-origin:left 0;">percentage of D and E</span></div>
<div style="position:absolute;left:881.00px;top:1234.44px;line-height:21.6px;white-space:nowrap;font-family:'Liberation Serif', serif;font-size:18.0px;font-weight:normal;color:#231f20;"><span style="display:inline-block;transform:scaleX(0.9781);transform-origin:left 0;">values for wet grip in 2023</span></div>
<div style="position:absolute;left:881.00px;top:1256.66px;line-height:21.6px;white-space:nowrap;font-family:'Liberation Serif', serif;font-size:18.0px;font-weight:normal;color:#231f20;"><span style="display:inline-block;transform:scaleX(0.974);transform-origin:left 0;">is less than 10% (Figure 13).</span></div>
<div style="position:absolute;left:881.00px;top:1301.59px;line-height:19.92px;white-space:nowrap;font-family:'Liberation Sans', sans-serif;font-size:16.6px;font-weight:bold;color:#1d1d1b;-webkit-text-stroke:0.45px #1d1d1b;"><span style="display:inline-block;transform:scaleX(1.1261);transform-origin:left 0;">Evolution of noise</span></div>
<div style="position:absolute;left:881.00px;top:1322.62px;line-height:21.6px;white-space:nowrap;font-family:'Liberation Serif', serif;font-size:18.0px;font-weight:normal;color:#231f20;"><span style="display:inline-block;transform:scaleX(0.9734);transform-origin:left 0;">Since tire labeling was</span></div>
<div style="position:absolute;left:881.00px;top:1344.85px;line-height:21.6px;white-space:nowrap;font-family:'Liberation Serif', serif;font-size:18.0px;font-weight:normal;color:#231f20;"><span style="display:inline-block;transform:scaleX(1.0035);transform-origin:left 0;">introduced in 2012, it can</span></div>
<div style="position:absolute;left:881.00px;top:1367.07px;line-height:21.6px;white-space:nowrap;font-family:'Liberation Serif', serif;font-size:18.0px;font-weight:normal;color:#231f20;"><span style="display:inline-block;transform:scaleX(1.0063);transform-origin:left 0;">be observed that the share</span></div>
<div style="position:absolute;left:881.00px;top:1389.29px;line-height:21.6px;white-space:nowrap;font-family:'Liberation Serif', serif;font-size:18.0px;font-weight:normal;color:#231f20;"><span style="display:inline-block;transform:scaleX(0.9788);transform-origin:left 0;">of A values is stable and less</span></div>
<div style="position:absolute;left:881.00px;top:1411.51px;line-height:21.6px;white-space:nowrap;font-family:'Liberation Serif', serif;font-size:18.0px;font-weight:normal;color:#231f20;"><span style="display:inline-block;transform:scaleX(0.982);transform-origin:left 0;">than 10% (Figure 14).</span></div>
<div style="position:absolute;left:514.40px;top:1434.89px;line-height:19.92px;white-space:nowrap;font-family:'Liberation Sans', sans-serif;font-size:16.6px;font-weight:bold;color:#1d1d1b;-webkit-text-stroke:0.45px #1d1d1b;"><span style="display:inline-block;transform:scaleX(1.1502);transform-origin:left 0;">Evolution of</span></div>
<div style="position:absolute;left:514.40px;top:1456.19px;line-height:19.92px;white-space:nowrap;font-family:'Liberation Sans', sans-serif;font-size:16.6px;font-weight:bold;color:#1d1d1b;-webkit-text-stroke:0.45px #1d1d1b;"><span style="display:inline-block;transform:scaleX(1.1516);transform-origin:left 0;">rolling resistance</span></div>
<div style="position:absolute;left:514.40px;top:1477.72px;line-height:21.6px;white-space:nowrap;font-family:'Liberation Serif', serif;font-size:18.0px;font-weight:normal;color:#231f20;"><span style="display:inline-block;transform:scaleX(1.0075);transform-origin:left 0;">The increase of the share of the C</span></div>
<div style="position:absolute;left:514.40px;top:1499.79px;line-height:21.6px;white-space:nowrap;font-family:'Liberation Serif', serif;font-size:18.0px;font-weight:normal;color:#231f20;"><span style="display:inline-block;transform:scaleX(1.0077);transform-origin:left 0;">values shows a trend of improvement</span></div>
<div style="position:absolute;left:514.40px;top:1521.87px;line-height:21.6px;white-space:nowrap;font-family:'Liberation Serif', serif;font-size:18.0px;font-weight:normal;color:#231f20;"><span style="display:inline-block;transform:scaleX(1.0151);transform-origin:left 0;">in rolling resistance, but the D and</span></div>
<div style="position:absolute;left:514.40px;top:1543.93px;line-height:21.6px;white-space:nowrap;font-family:'Liberation Serif', serif;font-size:18.0px;font-weight:normal;color:#231f20;"><span style="display:inline-block;transform:scaleX(0.9889);transform-origin:left 0;">E values still account for 55% of the</span></div>
<div style="position:absolute;left:514.40px;top:1566.00px;line-height:21.6px;white-space:nowrap;font-family:'Liberation Serif', serif;font-size:18.0px;font-weight:normal;color:#231f20;"><span style="display:inline-block;transform:scaleX(0.9968);transform-origin:left 0;">total in 2023 (Figure 12).</span></div>
<div style="position:absolute;left:811.30px;top:1456.19px;line-height:19.92px;white-space:nowrap;font-family:'Liberation Sans', sans-serif;font-size:16.6px;font-weight:bold;color:#1d1d1b;-webkit-text-stroke:0.45px #1d1d1b;"><span style="display:inline-block;transform:scaleX(1.1168);transform-origin:left 0;">C3 (heavy trucks and buses)</span></div>
<div style="position:absolute;left:811.30px;top:1477.72px;line-height:21.6px;white-space:nowrap;font-family:'Liberation Serif', serif;font-size:18.0px;font-weight:normal;color:#231f20;"><span style="display:inline-block;transform:scaleX(0.9975);transform-origin:left 0;">The most popular tire label in 2017</span></div>
<div style="position:absolute;left:811.30px;top:1499.79px;line-height:21.6px;white-space:nowrap;font-family:'Liberation Serif', serif;font-size:18.0px;font-weight:normal;color:#231f20;"><span style="display:inline-block;transform:scaleX(1.0042);transform-origin:left 0;">was D for fuel consumption and C</span></div>
<div style="position:absolute;left:811.30px;top:1521.87px;line-height:21.6px;white-space:nowrap;font-family:'Liberation Serif', serif;font-size:18.0px;font-weight:normal;color:#231f20;"><span style="display:inline-block;transform:scaleX(0.9835);transform-origin:left 0;">for wet grip (Table 16). As before,</span></div>
<div style="position:absolute;left:811.30px;top:1543.93px;line-height:21.6px;white-space:nowrap;font-family:'Liberation Serif', serif;font-size:18.0px;font-weight:normal;color:#231f20;"><span style="display:inline-block;transform:scaleX(1.0182);transform-origin:left 0;">the same reminder should be noted</span></div>
<div style="position:absolute;left:811.30px;top:1566.00px;line-height:21.6px;white-space:nowrap;font-family:'Liberation Serif', serif;font-size:18.0px;font-weight:normal;color:#231f20;"><span style="display:inline-block;transform:scaleX(1.0167);transform-origin:left 0;">regarding a data transformation to</span></div>
<div style="position:absolute;left:68.00px;top:1622.20px;width:1017.60px;height:1.70px;background:#505050;"></div>
<div style="position:absolute;left:68.70px;top:1633.61px;line-height:15.84px;white-space:nowrap;font-family:'Liberation Sans', sans-serif;font-size:13.2px;font-weight:bold;color:#111;letter-spacing:0.3px;"><span style="display:inline-block;">72</span></div>
<div style="position:absolute;right:114.40px;text-align:right;top:1631.33px;line-height:18.6px;white-space:nowrap;font-family:'Liberation Sans', sans-serif;font-size:15.5px;font-weight:normal;color:#222;"><span style="display:inline-block;">www.tiretechnologyinternational.com</span></div>
</body></html>
